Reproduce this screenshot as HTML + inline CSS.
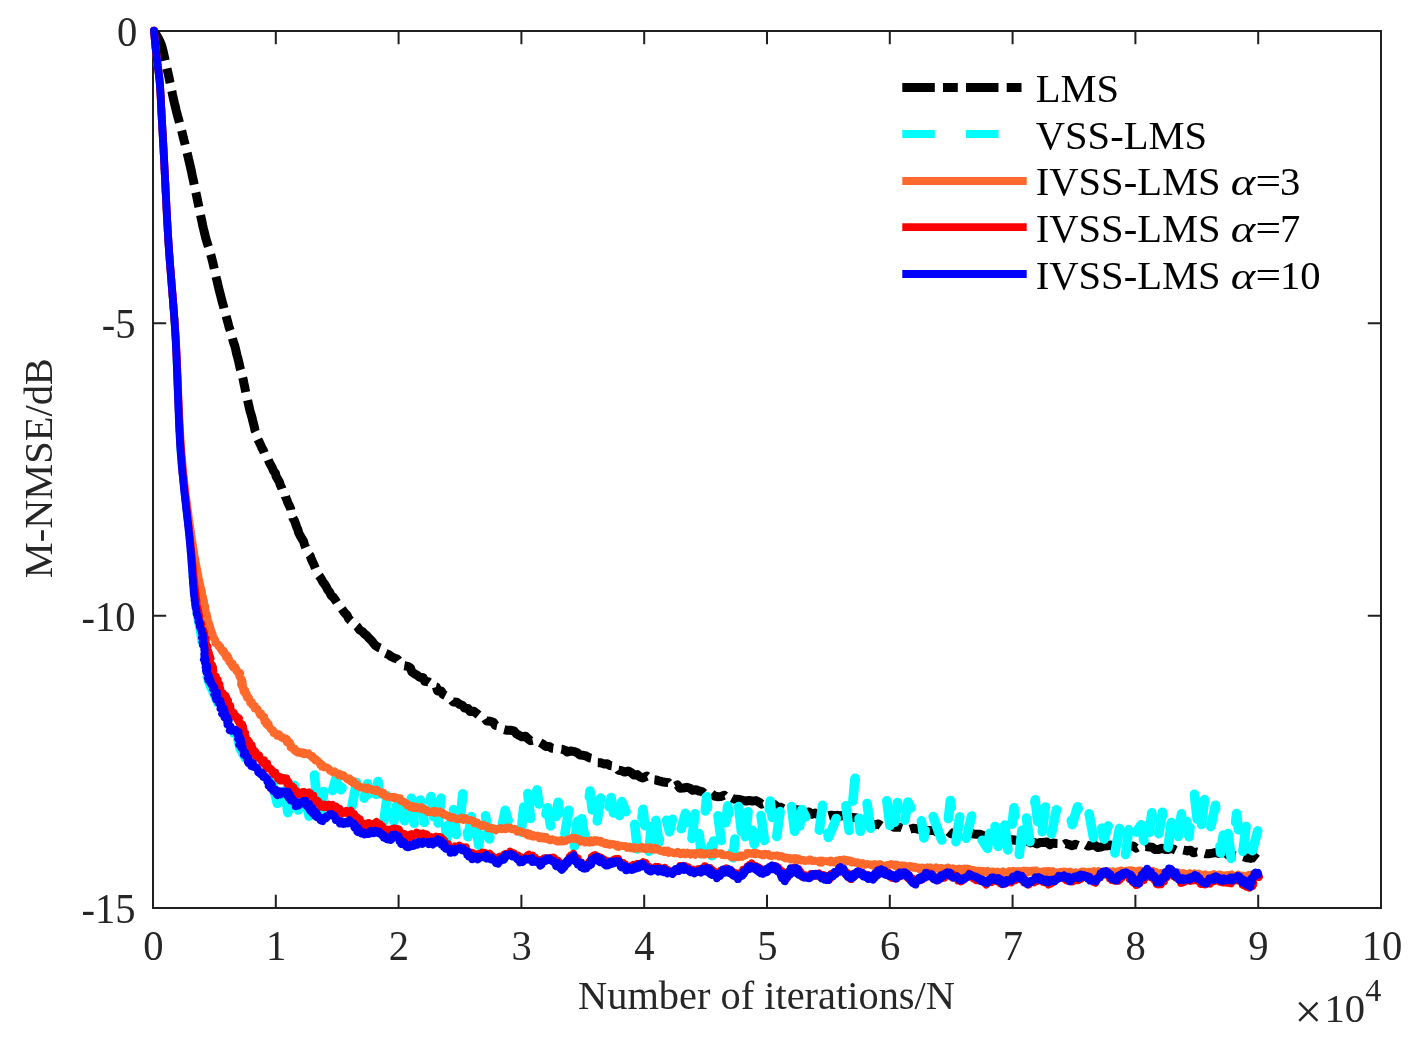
<!DOCTYPE html>
<html lang="en"><head><meta charset="utf-8"><title>M-NMSE convergence</title>
<style>html,body{margin:0;padding:0;background:#fff}svg{display:block}</style></head>
<body>
<svg width="1426" height="1047" viewBox="0 0 1426 1047">
<rect x="0" y="0" width="1426" height="1047" fill="#fff"/>
<g stroke="#202020" stroke-width="2" fill="none" stroke-linecap="butt">
<rect x="153.0" y="31.0" width="1228.0" height="877.0"/>
<path d="M275.8 908.0 v-13.2 M275.8 31.0 v13.2 M398.6 908.0 v-13.2 M398.6 31.0 v13.2 M521.4 908.0 v-13.2 M521.4 31.0 v13.2 M644.2 908.0 v-13.2 M644.2 31.0 v13.2 M767.0 908.0 v-13.2 M767.0 31.0 v13.2 M889.8 908.0 v-13.2 M889.8 31.0 v13.2 M1012.6 908.0 v-13.2 M1012.6 31.0 v13.2 M1135.4 908.0 v-13.2 M1135.4 31.0 v13.2 M1258.2 908.0 v-13.2 M1258.2 31.0 v13.2 M153.0 323.3 h13.2 M1381.0 323.3 h-13.2 M153.0 615.7 h13.2 M1381.0 615.7 h-13.2"/>
</g>
<g fill="none" stroke-linejoin="round" stroke-linecap="butt">
<path d="M153.3 30.7 L155.2 33.3 L157.0 35.9 L158.6 38.7 L160.0 41.5 L161.3 44.5 L162.2 47.5 L163.0 50.7 L163.7 53.8 L164.4 56.9 L165.1 60.0 L165.8 63.1 L166.5 66.3 L167.2 69.4 L167.9 72.5 L168.6 75.6 L169.3 78.8 L169.9 81.9 L170.6 85.0 L171.2 88.2 L171.9 91.3 L172.5 94.4 L173.2 97.6 L173.9 100.7 L174.6 103.8 L175.4 106.9 L176.1 110.0 L176.9 113.1 L177.7 116.2 L178.6 119.3 L179.4 122.4 L180.2 125.5 L181.1 128.6 L181.9 131.7 L182.7 134.8 L183.4 137.9 L184.2 141.0 L185.0 144.1 L185.7 147.2 L186.5 150.3 L187.3 153.4 L188.0 156.5 L188.7 159.6 L189.5 162.8 L190.2 165.9 L190.9 169.0 L191.6 172.1 L192.2 175.2 L192.9 178.4 L193.6 181.5 L194.2 184.6 L194.9 187.8 L195.5 190.9 L196.2 194.0 L196.9 197.2 L197.5 200.3 L198.2 203.4 L198.8 206.6 L199.5 209.7 L200.1 212.8 L200.7 216.0 L201.4 219.1 L202.1 222.2 L202.7 225.4 L203.4 228.5 L204.2 231.6 L204.9 234.7 L205.7 237.8 L206.6 240.9 L207.5 243.9 L208.5 247.0 L209.4 250.1 L210.3 253.1 L211.2 256.2 L212.0 259.3 L212.8 262.4 L213.5 265.5 L214.2 268.6 L214.9 271.8 L215.6 274.9 L216.3 278.0 L217.1 281.1 L217.8 284.2 L218.5 287.4 L219.3 290.5 L220.1 293.6 L220.9 296.7 L221.7 299.8 L222.5 302.8 L223.4 305.9 L224.1 309.0 L225.1 312.1 L225.9 315.2 L226.7 318.3 L227.6 321.4 L228.4 324.5 L229.2 327.6 L230.3 330.6 L231.1 333.7 L232.0 336.7 L232.8 339.9 L233.7 342.9 L234.8 345.9 L235.6 349.0 L236.3 352.2 L237.0 355.3 L237.9 358.3 L238.7 361.5 L239.3 364.6 L240.0 367.7 L241.0 370.8 L241.5 373.9 L242.5 377.0 L243.3 380.1 L243.9 383.2 L244.6 386.4 L245.2 389.5 L245.8 392.7 L246.6 395.8 L247.3 398.9 L248.0 402.0 L248.7 405.1 L249.4 408.2 L250.1 411.4 L251.1 414.4 L252.0 417.5 L252.7 420.6 L253.5 423.7 L254.3 426.8 L254.9 430.0 L256.2 432.9 L256.9 436.0 L257.8 439.1 L259.2 442.0 L260.6 444.9 L261.8 447.8 L263.4 450.6 L264.5 453.7 L266.5 456.2 L268.0 459.0 L269.2 462.1 L270.7 464.9 L272.2 467.7 L273.4 470.7 L275.4 473.2 L276.1 476.4 L277.8 479.2 L279.4 482.0 L280.3 485.1 L281.7 487.9 L282.7 491.0 L284.8 493.6 L285.5 496.7 L286.8 499.7 L287.8 502.7 L289.3 505.6 L290.6 508.5 L291.1 511.7 L292.4 514.7 L292.9 517.9 L294.5 520.7 L295.6 523.7 L296.6 526.8 L297.9 529.7 L298.7 532.8 L300.2 535.7 L301.8 538.5 L303.5 541.2 L304.4 544.3 L305.6 547.3 L306.9 550.2 L308.0 553.2 L310.2 555.8 L311.2 558.8 L312.5 561.7 L313.9 564.6 L315.1 567.6 L316.3 570.5 L317.6 573.5 L319.5 576.1 L321.2 578.8 L322.6 581.6 L324.6 584.1 L326.3 586.9 L327.7 589.8 L329.7 592.3 L331.0 595.3 L333.5 597.5 L335.4 600.1 L337.1 602.7 L338.9 605.4 L341.0 607.8 L342.9 610.4 L344.8 613.0 L347.1 615.3 L348.4 618.3 L350.6 620.6 L353.1 622.7 L355.3 625.1 L357.7 627.2 L359.5 629.8 L362.3 631.5 L364.5 633.9 L367.0 635.8 L369.1 638.3 L371.4 640.5 L373.4 643.1 L375.5 645.5 L378.2 647.3 L381.3 648.5 L382.9 651.8 L385.7 653.3 L388.7 654.6 L391.3 656.6 L394.1 658.0 L397.3 659.0 L399.3 661.8 L401.4 664.4 L404.3 665.8 L407.8 666.4 L410.5 668.1 L411.8 671.8 L414.4 673.7 L417.2 675.2 L419.7 677.2 L423.3 677.8 L424.7 681.3 L428.3 681.8 L430.9 683.6 L433.1 686.1 L436.4 687.0 L437.5 690.9 L441.3 691.1 L442.9 694.3 L445.8 695.8 L448.2 698.0 L451.1 699.3 L453.3 702.0 L456.9 702.2 L459.4 704.2 L462.4 705.4 L464.6 708.1 L468.0 708.5 L470.0 711.4 L473.9 711.2 L476.4 713.2 L478.9 715.3 L482.1 716.0 L484.8 717.8 L486.7 721.0 L490.2 721.2 L493.3 722.2 L495.3 725.3 L498.6 726.0 L501.4 727.5 L504.0 729.5 L507.2 730.3 L510.6 730.3 L513.9 730.9 L516.2 733.6 L519.0 735.3 L521.8 736.8 L525.5 736.2 L528.0 738.7 L530.6 740.7 L534.3 739.9 L537.3 741.1 L540.2 742.6 L543.0 744.2 L545.6 746.4 L549.0 746.4 L551.8 748.2 L555.0 748.5 L558.3 748.9 L561.5 749.2 L564.6 750.0 L567.4 752.0 L570.9 750.9 L574.1 751.6 L577.2 752.7 L579.8 755.0 L583.1 755.3 L586.2 756.0 L589.0 757.7 L592.3 758.3 L594.8 760.5 L597.3 762.7 L600.7 762.8 L603.7 763.9 L607.2 763.8 L609.9 765.6 L613.2 766.0 L616.2 766.9 L618.5 770.3 L621.7 770.8 L624.7 772.1 L628.3 771.0 L631.2 772.6 L633.8 775.0 L637.3 774.6 L639.9 776.9 L642.9 777.9 L646.8 776.1 L649.5 778.3 L652.5 779.6 L655.7 779.9 L658.8 780.9 L661.9 781.7 L665.0 782.2 L668.3 782.5 L670.8 785.3 L673.7 787.0 L677.5 785.0 L680.0 788.2 L683.3 788.0 L686.8 787.3 L689.9 788.2 L692.7 790.3 L696.1 789.8 L699.1 791.0 L702.2 791.6 L704.9 794.3 L708.4 793.5 L711.6 793.5 L714.4 796.0 L717.5 796.7 L720.8 796.5 L724.3 795.3 L727.0 798.1 L730.4 797.3 L733.4 798.9 L736.6 799.2 L739.8 799.5 L742.9 800.3 L746.0 801.0 L749.4 800.5 L752.5 801.1 L755.9 800.6 L758.8 802.0 L761.7 804.1 L765.2 802.8 L768.0 805.0 L771.1 805.8 L774.6 804.6 L777.4 807.0 L780.6 807.3 L783.6 808.9 L787.1 807.8 L790.0 809.5 L793.0 810.5 L796.4 809.8 L799.7 810.0 L802.7 811.1 L805.7 812.6 L809.0 812.0 L811.9 814.3 L815.3 813.1 L818.3 814.8 L821.7 813.9 L824.8 814.7 L827.9 816.1 L831.2 815.2 L834.3 815.9 L837.6 815.3 L840.7 816.0 L844.1 815.2 L847.1 817.0 L850.2 817.3 L853.5 817.6 L856.7 817.9 L859.7 819.2 L862.8 819.9 L865.9 820.9 L868.6 823.0 L871.7 824.1 L874.8 824.8 L878.3 823.9 L881.2 825.9 L884.5 825.4 L887.5 827.1 L891.0 824.9 L894.0 827.2 L897.2 827.1 L900.4 827.3 L903.5 828.4 L906.7 829.0 L909.8 829.3 L913.2 828.2 L916.3 828.7 L919.5 829.6 L922.8 828.3 L925.8 830.9 L929.0 830.5 L932.3 830.4 L935.4 831.3 L938.5 832.6 L941.7 832.4 L944.9 832.3 L948.2 831.3 L951.2 833.9 L954.6 832.5 L957.6 834.3 L960.9 833.4 L964.0 834.2 L967.1 835.2 L970.6 833.0 L973.7 834.1 L976.9 834.2 L980.2 834.3 L983.2 835.7 L986.1 837.9 L989.6 836.4 L992.8 836.5 L995.6 839.5 L998.9 838.7 L1002.1 839.1 L1005.1 840.3 L1008.3 841.1 L1011.7 839.8 L1014.8 840.1 L1018.0 841.1 L1021.0 842.7 L1024.2 843.2 L1027.6 841.2 L1030.6 842.9 L1033.9 842.4 L1037.0 843.9 L1040.3 842.4 L1043.5 842.5 L1046.8 842.0 L1049.8 844.8 L1053.1 842.9 L1056.3 843.5 L1059.5 843.6 L1062.5 845.9 L1065.9 843.6 L1069.0 844.5 L1072.2 845.7 L1075.4 844.3 L1078.6 845.6 L1081.8 845.3 L1085.0 844.2 L1088.2 846.0 L1091.4 845.3 L1094.6 845.0 L1097.7 847.4 L1100.9 847.1 L1104.2 846.0 L1107.4 845.8 L1110.6 844.9 L1113.7 847.2 L1117.0 845.9 L1120.2 846.7 L1123.4 847.2 L1126.5 847.7 L1129.8 846.0 L1133.0 845.9 L1136.1 848.1 L1139.4 846.1 L1142.6 847.3 L1145.8 846.4 L1149.0 847.1 L1152.2 847.3 L1155.2 849.5 L1158.5 849.4 L1161.8 848.2 L1164.9 849.4 L1168.1 849.4 L1171.4 848.5 L1174.5 849.6 L1177.6 851.1 L1180.9 849.5 L1184.1 850.2 L1187.2 850.9 L1190.5 850.2 L1193.5 852.8 L1196.8 852.0 L1199.9 853.0 L1203.1 852.9 L1206.3 853.8 L1209.5 853.7 L1212.7 853.1 L1216.0 852.4 L1219.1 853.5 L1222.4 852.5 L1225.6 852.9 L1228.6 855.4 L1231.9 854.7 L1234.9 855.9 L1238.1 856.1 L1241.4 855.8 L1244.5 856.9 L1247.5 857.9 L1250.7 858.4 L1254.2 856.9 L1257.0 859.3 L1258.4 858.3" stroke="#000" stroke-width="9" stroke-dasharray="32.5 8.2 14.8 8.2"/>
<path d="M157.1 60.5 L157.4 63.5 L157.8 66.5 L158.2 69.5 L158.6 72.4 L159.0 75.4 L159.4 78.4 L159.7 81.4 L159.9 84.4 L160.1 87.4 L160.3 90.4 L160.5 93.3 L160.7 96.3 L160.8 99.3 L161.0 102.3 L161.1 105.3 L161.2 108.3 L161.4 111.3 L161.6 114.3 L161.7 117.3 L161.9 120.3 L162.1 123.3 L162.2 126.3 L162.4 129.3 L162.6 132.3 L162.7 135.3 L162.9 138.3 L163.1 141.3 L163.3 144.3 L163.4 147.3 L163.6 150.3 L163.7 153.3 L163.9 156.3 L164.1 159.3 L164.2 162.3 L164.4 165.2 L164.5 168.2 L164.7 171.2 L164.8 174.2 L165.0 177.2 L165.1 180.2 L165.3 183.2 L165.4 186.2 L165.6 189.2 L165.7 192.2 L165.9 195.2 L166.0 198.2 L166.2 201.2 L166.3 204.2 L166.5 207.2 L166.6 210.2 L166.8 213.2 L167.0 216.2 L167.1 219.2 L167.3 222.2 L167.4 225.2 L167.6 228.2 L167.8 231.2 L168.0 234.2 L168.1 237.1 L168.3 240.1 L168.5 243.1 L168.7 246.1 L168.9 249.1 L169.1 252.1 L169.4 255.1 L169.6 258.1 L169.8 261.1 L170.0 264.1 L170.3 267.1 L170.5 270.1 L170.7 273.1 L171.0 276.0 L171.2 279.0 L171.5 282.0 L171.7 285.0 L171.9 288.0 L172.2 291.0 L172.4 294.0 L172.7 297.0 L172.9 300.0 L173.1 303.0 L173.4 306.0 L173.6 308.9 L173.8 311.9 L174.0 314.9 L174.3 317.9 L174.5 320.9 L174.7 323.9 L174.9 326.9 L175.1 329.9 L175.2 332.9 L175.4 335.9 L175.6 338.9 L175.8 341.9 L175.9 344.9 L176.1 347.9 L176.2 350.9 L176.3 353.9 L176.5 356.9 L176.6 359.9 L176.7 362.9 L176.8 365.8 L177.0 368.8 L177.1 371.8 L177.2 374.8 L177.3 377.8 L177.4 380.8 L177.5 383.8 L177.6 386.8 L177.7 389.8 L177.9 392.8 L178.0 395.8 L178.1 398.8 L178.2 401.8 L178.3 404.8 L178.4 407.8 L178.5 410.8 L178.7 413.8 L178.8 416.8 L178.9 419.8 L179.0 422.8 L179.2 425.8 L179.3 428.8 L179.5 431.8 L179.6 434.8 L179.8 437.8 L180.0 440.8 L180.1 443.8 L180.3 446.8 L180.5 449.8 L180.7 452.8 L180.9 455.7 L181.2 458.7 L181.4 461.7 L181.7 464.7 L181.9 467.7 L182.2 470.7 L182.5 473.7 L182.8 476.6 L183.1 479.6 L183.4 482.6 L183.7 485.6 L184.0 488.6 L184.4 491.6 L184.7 494.6 L185.0 497.5 L185.4 500.5 L185.7 503.5 L186.0 506.5 L186.4 509.5 L186.7 512.5 L187.0 515.4 L187.4 518.4 L187.7 521.4 L188.0 524.4 L188.3 527.4 L188.7 530.4 L189.0 533.3 L189.3 536.3 L189.6 539.3 L189.9 542.3 L190.2 545.3 L190.4 548.3 L190.7 551.3 L191.0 554.2 L191.2 557.2 L191.4 560.2 L191.7 563.2 L191.9 566.2 L192.1 569.2 L192.3 572.2 L192.5 575.2 L192.8 578.2 L193.0 581.2 L193.2 584.2 L193.5 587.2 L193.7 590.2 L194.0 593.2 L194.3 596.1 L194.6 599.1 L194.9 602.1 L195.2 605.1 L195.6 608.0 L196.1 611.0 L196.6 614.0 L197.1 616.9 L197.6 619.9 L198.2 622.8 L198.7 625.8 L199.3 628.7 L199.8 631.7 L200.3 634.6 L200.8 637.6 L201.3 640.6 L201.6 643.5 L201.9 646.5 L202.2 649.5 L202.5 652.5 L202.7 655.5 L203.0 658.5 L203.3 661.5 L203.7 664.4 L204.2 667.4 L204.9 670.3 L205.6 673.2 L206.3 676.1 L207.2 679.0 L208.1 681.9 L208.9 684.5 L216.9 702.5 L223.1 717.9 L229.3 731.8 L236.2 734.9 L239.3 748.8 L247.8 764.2 L260.1 776.5 L272.0 781.2" stroke="#00ffff" stroke-width="7.8" stroke-dasharray="32.5 31.2" stroke-dashoffset="20"/>
<path d="M272.0 781.2 L277.3 803.3 L282.6 777.4 L287.9 812.6 L293.2 778.6 L298.5 810.9 L303.8 785.4 L309.1 816.1 L314.4 774.3 L319.7 827.1 L325.0 780.6 L330.3 798.4 L335.6 779.5 L340.9 789.7 L346.2 781.3 L351.5 809.0 L356.8 780.8 L362.1 807.3 L367.4 783.8 L372.7 812.8 L378.0 781.6 L383.3 826.0 L388.6 785.2 L393.9 821.4 L399.2 788.6 L404.5 820.7 L409.8 784.3 L415.1 831.5 L420.4 800.0 L425.7 830.6 L431.0 796.6 L436.3 838.7 L441.6 793.7 L446.9 838.2 L452.2 798.3 L457.5 845.1 L462.8 793.8 L468.1 836.8 L473.4 804.8 L478.7 845.2 L484.0 806.6 L489.3 838.9 L494.6 825.5 L499.9 836.7 L505.2 810.3 L510.5 828.9 L515.8 817.5 L521.1 832.7 L526.4 781.4 L531.7 828.3 L537.0 789.9 L542.3 827.7 L547.6 807.7 L552.9 839.9 L558.2 802.2 L563.5 842.0 L568.8 810.2 L574.1 847.7 L579.4 801.2 L584.7 839.0 L590.0 791.0 L595.3 834.3 L600.6 798.0 L605.9 821.9 L611.2 797.6 L616.5 833.0 L621.8 801.6 L627.1 814.2 L632.4 802.2 L637.7 852.2 L643.0 809.3 L648.3 857.4 L653.6 804.5 L658.9 842.1 L664.2 811.0 L669.5 831.9 L674.8 809.6 L680.1 832.8 L685.4 813.4 L690.7 849.3 L696.0 804.8 L701.3 853.7 L706.6 796.9 L711.9 855.7 L717.2 809.5 L722.5 850.5 L727.8 805.9 L733.1 857.8 L738.4 803.9 L743.7 852.9 L749.0 802.1 L754.3 844.2 L759.6 805.7 L764.9 843.7 L770.2 801.0 L775.5 845.8 L780.8 805.9 L786.1 820.2 L791.4 805.3 L796.7 847.5 L802.0 809.5 L807.3 819.7 L812.6 831.3 L817.9 841.0 L823.2 800.4 L828.5 837.5 L833.8 824.8 L839.1 811.4 L844.4 793.8 L849.7 834.7 L855.0 778.4 L860.3 831.3 L865.6 792.6 L870.9 831.2 L876.2 819.1 L881.5 809.6 L886.8 800.4 L892.1 842.7 L897.4 802.6 L902.7 832.7 L908.0 802.0 L913.3 812.1 L918.6 800.6 L923.9 838.0 L929.2 805.0 L934.5 820.4 L939.8 835.2 L945.1 847.9 L950.4 800.5 L955.7 843.3 L961.0 807.9 L966.3 838.2 L971.6 816.0 L976.9 846.0 L982.2 840.2 L987.5 848.4 L992.8 811.1 L998.1 846.4 L1003.4 814.6 L1008.7 855.9 L1014.0 807.7 L1019.3 854.5 L1024.6 805.3 L1029.9 841.6 L1035.2 799.8 L1040.5 845.6 L1045.8 803.8 L1051.1 836.0 L1056.4 809.7 L1061.7 813.4 L1067.0 801.8 L1072.3 824.6 L1077.6 806.7 L1082.9 824.2 L1088.2 808.6 L1093.5 837.7 L1098.8 814.0 L1104.1 839.1 L1109.4 821.9 L1114.7 854.1 L1120.0 825.7 L1125.3 857.5 L1130.6 812.8 L1135.9 832.5 L1141.2 824.7 L1146.5 855.4 L1151.8 812.8 L1157.1 844.5 L1162.4 812.2 L1167.7 850.2 L1173.0 809.7 L1178.3 836.4 L1183.6 798.7 L1188.9 836.7 L1194.2 792.0 L1199.5 840.7 L1204.8 797.9 L1210.1 830.1 L1215.4 805.3 L1220.7 853.1 L1226.0 815.5 L1231.3 859.2 L1236.6 813.6 L1241.9 859.4 L1247.2 817.6 L1252.5 850.7 L1257.8 830.5 L1258.4 826.0" stroke="#00ffff" stroke-width="9.6" stroke-linecap="round" stroke-dasharray="25 38" stroke-dashoffset="0"/>
<path d="M154.0 30.7 L154.1 31.8 L154.2 32.9 L154.3 34.0 L154.4 35.1 L154.5 36.2 L154.6 37.3 L154.7 38.4 L154.8 39.5 L154.9 40.6 L155.0 41.7 L155.1 42.8 L155.2 43.8 L155.3 44.9 L155.4 46.0 L155.5 47.1 L155.6 48.2 L155.8 49.3 L155.9 50.4 L156.0 51.5 L156.1 52.6 L156.3 53.7 L156.4 54.8 L156.5 55.9 L156.6 57.0 L156.8 58.1 L156.9 59.2 L157.0 60.2 L157.2 61.3 L157.3 62.4 L157.4 63.5 L157.6 64.6 L157.7 65.7 L157.9 66.8 L158.0 67.9 L158.2 69.0 L158.3 70.1 L158.5 71.1 L158.6 72.2 L158.7 73.3 L158.9 74.4 L159.0 75.5 L159.2 76.6 L159.3 77.7 L159.4 78.8 L159.5 79.9 L159.6 81.0 L159.7 82.1 L159.8 83.2 L159.9 84.3 L160.0 85.4 L160.1 86.5 L160.1 87.6 L160.2 88.7 L160.3 89.8 L160.3 90.9 L160.4 92.0 L160.5 93.0 L160.5 94.1 L160.6 95.2 L160.7 96.3 L160.7 97.4 L160.8 98.5 L160.8 99.6 L160.9 100.7 L160.9 101.8 L161.0 102.9 L161.0 104.0 L161.1 105.1 L161.1 106.2 L161.2 107.3 L161.3 108.4 L161.3 109.5 L161.4 110.6 L161.4 111.7 L161.5 112.8 L161.5 113.9 L161.6 115.0 L161.7 116.1 L161.7 117.2 L161.8 118.3 L161.8 119.4 L161.9 120.5 L162.0 121.6 L162.0 122.7 L162.1 123.8 L162.2 124.9 L162.2 126.0 L162.3 127.1 L162.3 128.2 L162.4 129.3 L162.5 130.4 L162.5 131.5 L162.6 132.6 L162.7 133.7 L162.7 134.8 L162.8 135.9 L162.8 137.0 L162.9 138.1 L163.0 139.2 L163.0 140.3 L163.1 141.4 L163.2 142.5 L163.2 143.6 L163.3 144.7 L163.3 145.8 L163.4 146.9 L163.5 148.0 L163.5 149.1 L163.6 150.2 L163.6 151.3 L163.7 152.4 L163.7 153.5 L163.8 154.6 L163.9 155.7 L163.9 156.8 L164.0 157.9 L164.0 159.0 L164.1 160.1 L164.1 161.2 L164.2 162.2 L164.3 163.3 L164.3 164.4 L164.4 165.5 L164.4 166.6 L164.5 167.7 L164.5 168.8 L164.6 169.9 L164.7 171.0 L164.7 172.1 L164.8 173.2 L164.8 174.3 L164.9 175.4 L164.9 176.5 L165.0 177.6 L165.0 178.7 L165.1 179.8 L165.1 180.9 L165.2 182.0 L165.3 183.1 L165.3 184.2 L165.4 185.3 L165.4 186.4 L165.5 187.5 L165.5 188.6 L165.6 189.7 L165.6 190.8 L165.7 191.9 L165.7 193.0 L165.8 194.1 L165.9 195.2 L165.9 196.3 L166.0 197.4 L166.0 198.5 L166.1 199.6 L166.1 200.7 L166.2 201.8 L166.2 202.9 L166.3 204.0 L166.4 205.1 L166.4 206.2 L166.5 207.3 L166.5 208.4 L166.6 209.5 L166.6 210.6 L166.7 211.7 L166.8 212.8 L166.8 213.9 L166.9 215.0 L166.9 216.1 L167.0 217.2 L167.1 218.3 L167.1 219.4 L167.2 220.5 L167.2 221.6 L167.3 222.7 L167.4 223.8 L167.4 224.9 L167.5 226.0 L167.5 227.1 L167.6 228.2 L167.7 229.3 L167.7 230.4 L167.8 231.5 L167.9 232.6 L167.9 233.7 L168.0 234.7 L168.1 235.8 L168.1 236.9 L168.2 238.0 L168.3 239.1 L168.3 240.2 L168.4 241.3 L168.5 242.4 L168.6 243.5 L168.6 244.6 L168.7 245.7 L168.8 246.8 L168.9 247.9 L168.9 249.0 L169.0 250.1 L169.1 251.2 L169.2 252.3 L169.2 253.4 L169.3 254.5 L169.4 255.6 L169.5 256.7 L169.6 257.8 L169.7 258.9 L169.7 260.0 L169.8 261.1 L169.9 262.2 L170.0 263.3 L170.1 264.4 L170.2 265.5 L170.2 266.6 L170.3 267.7 L170.4 268.8 L170.5 269.9 L170.6 271.0 L170.7 272.1 L170.8 273.1 L170.9 274.2 L170.9 275.3 L171.0 276.4 L171.1 277.5 L171.2 278.6 L171.3 279.7 L171.4 280.8 L171.5 281.9 L171.6 283.0 L171.7 284.1 L171.8 285.2 L171.8 286.3 L171.9 287.4 L172.0 288.5 L172.1 289.6 L172.2 290.7 L172.3 291.8 L172.4 292.9 L172.5 294.0 L172.6 295.1 L172.7 296.2 L172.8 297.3 L172.8 298.4 L172.9 299.5 L173.0 300.6 L173.1 301.7 L173.2 302.7 L173.3 303.8 L173.4 304.9 L173.5 306.0 L173.5 307.1 L173.6 308.2 L173.7 309.3 L173.8 310.4 L173.9 311.5 L174.0 312.6 L174.1 313.7 L174.1 314.8 L174.2 315.9 L174.3 317.0 L174.4 318.1 L174.5 319.2 L174.6 320.3 L174.6 321.4 L174.7 322.5 L174.8 323.6 L174.9 324.7 L174.9 325.8 L175.0 326.9 L175.1 328.0 L175.2 329.1 L175.2 330.2 L175.3 331.3 L175.4 332.4 L175.5 333.5 L175.5 334.6 L175.6 335.7 L175.7 336.8 L175.7 337.9 L175.8 339.0 L175.9 340.1 L175.9 341.2 L176.0 342.2 L176.1 343.3 L176.1 344.4 L176.2 345.5 L176.2 346.6 L176.3 347.7 L176.3 348.8 L176.4 349.9 L176.5 351.0 L176.5 352.1 L176.6 353.2 L176.6 354.3 L176.7 355.4 L176.7 356.5 L176.8 357.6 L176.8 358.7 L176.9 359.8 L176.9 360.9 L177.0 362.0 L177.0 363.1 L177.1 364.2 L177.1 365.3 L177.2 366.4 L177.2 367.5 L177.3 368.6 L177.3 369.7 L177.4 370.8 L177.4 371.9 L177.5 373.0 L177.5 374.1 L177.6 375.2 L177.6 376.3 L177.7 377.4 L177.7 378.5 L177.8 379.6 L177.8 380.7 L177.8 381.8 L177.9 382.9 L177.9 384.0 L178.0 385.1 L178.0 386.2 L178.1 387.3 L178.1 388.4 L178.2 389.5 L178.2 390.6 L178.3 391.7 L178.3 392.8 L178.3 393.9 L178.4 395.0 L178.4 396.1 L178.5 397.2 L178.5 398.3 L178.6 399.4 L178.6 400.5 L178.7 401.6 L178.7 402.7 L178.8 403.8 L178.8 404.9 L178.9 406.0 L178.9 407.1 L179.0 408.2 L179.0 409.3 L179.1 410.4 L179.1 411.5 L179.2 412.6 L179.2 413.7 L179.3 414.8 L179.3 415.9 L179.4 417.0 L179.4 418.1 L179.5 419.2 L179.5 420.3 L179.6 421.4 L179.6 422.5 L179.7 423.6 L179.8 424.7 L179.8 425.8 L179.9 426.9 L179.9 428.0 L180.0 429.1 L180.1 430.2 L180.1 431.3 L180.2 432.4 L180.3 433.4 L180.3 434.5 L180.4 435.6 L180.5 436.7 L180.5 437.8 L180.6 438.9 L180.7 440.0 L180.7 441.1 L180.8 442.2 L180.9 443.3 L181.0 444.4 L181.0 445.5 L181.1 446.6 L181.2 447.7 L181.3 448.8 L181.4 449.9 L181.4 451.0 L181.5 452.1 L181.6 453.2 L181.7 454.3 L181.8 455.4 L181.9 456.5 L182.0 457.6 L182.1 458.7 L182.2 459.8 L182.3 460.9 L182.4 462.0 L182.5 463.1 L182.6 464.2 L182.7 465.3 L182.8 466.4 L182.9 467.4 L183.0 468.5 L183.1 469.6 L183.2 470.7 L183.3 471.8 L183.4 472.9 L183.5 474.0 L183.7 475.1 L183.8 476.2 L183.9 477.3 L184.0 478.4 L184.1 479.5 L184.2 480.6 L184.4 481.7 L184.5 482.8 L184.6 483.9 L184.7 484.9 L184.9 486.0 L185.0 487.1 L185.1 488.2 L185.2 489.3 L185.4 490.4 L185.5 491.5 L185.6 492.6 L185.8 493.7 L185.9 494.8 L186.0 495.9 L186.2 497.0 L186.3 498.1 L186.4 499.1 L186.6 500.2 L186.7 501.3 L186.9 502.4 L187.0 503.5 L187.2 504.6 L187.3 505.7 L187.4 506.8 L187.6 507.9 L187.7 509.0 L187.9 510.1 L188.0 511.1 L188.2 512.2 L188.3 513.3 L188.5 514.4 L188.6 515.5 L188.8 516.6 L188.9 517.7 L189.1 518.8 L189.2 519.9 L189.4 520.9 L189.5 522.0 L189.7 523.1 L189.8 524.2 L190.0 525.3 L190.2 526.4 L190.3 527.5 L190.5 528.6 L190.6 529.7 L190.8 530.7 L191.0 531.8 L191.1 532.9 L191.3 534.0 L191.4 535.1 L191.6 536.2 L191.8 537.3 L191.9 538.4 L192.1 539.5 L192.2 540.5 L192.4 541.6 L192.6 542.7 L192.7 543.8 L192.9 544.9 L193.1 546.0 L193.2 547.1 L193.4 548.2 L193.6 549.2 L193.7 550.3 L193.9 551.4 L194.1 552.5 L194.3 553.6 L194.4 554.7 L194.6 555.8 L194.8 556.8 L195.0 557.9 L195.2 559.0 L195.4 560.1 L195.6 561.2 L195.7 562.3 L196.0 563.3 L196.1 564.4 L196.4 565.5 L196.6 566.6 L196.8 567.7 L197.0 568.7 L197.2 569.8 L197.4 570.9 L197.5 572.0 L197.9 573.1 L198.1 574.1 L198.3 575.2 L198.5 576.3 L198.6 577.4 L198.8 578.5 L199.1 579.5 L199.4 580.6 L199.6 581.7 L199.8 582.8 L200.1 583.8 L200.3 584.9 L200.3 586.0 L200.7 587.1 L201.1 588.1 L201.1 589.2 L201.5 590.3 L201.9 591.3 L201.8 592.5 L202.2 593.5 L202.2 594.6 L202.5 595.7 L203.0 596.7 L203.2 597.8 L203.1 598.9 L203.6 600.0 L204.0 601.0 L204.2 602.1 L204.1 603.2 L204.4 604.3 L204.7 605.3 L205.3 606.3 L205.3 607.5 L205.4 608.5 L205.6 609.6 L205.7 610.7 L205.9 611.8 L206.3 612.9 L206.8 613.9 L206.9 615.0 L206.8 616.1 L207.4 617.1 L207.7 618.2 L207.5 619.4 L207.6 620.5 L208.5 621.4 L208.5 622.5 L208.5 623.7 L209.6 624.5 L209.8 625.6 L209.6 626.8 L210.5 627.7 L210.7 628.8 L210.2 630.1 L211.3 630.9 L211.9 631.8 L211.8 633.0 L212.7 633.9 L212.8 635.0 L212.3 636.4 L212.8 637.4 L214.2 638.0 L214.5 639.0 L215.2 639.9 L215.5 640.9 L215.2 642.4 L215.7 643.4 L216.7 644.1 L218.2 644.3 L218.3 645.6 L218.7 646.7 L220.3 646.8 L220.3 648.2 L220.8 649.3 L222.1 649.6 L222.1 651.1 L223.9 651.0 L224.4 652.0 L224.1 653.6 L224.9 654.4 L225.3 655.4 L227.1 655.5 L226.2 657.5 L228.4 657.4 L227.9 659.0 L229.3 659.4 L229.5 660.6 L229.3 662.0 L230.1 662.8 L230.8 663.7 L232.7 663.7 L231.8 665.7 L232.5 666.6 L233.1 667.6 L235.4 667.1 L235.6 668.3 L236.5 669.0 L236.2 670.7 L236.8 671.6 L238.2 671.9 L239.4 672.4 L240.3 673.2 L239.0 675.1 L239.2 676.1 L239.9 677.0 L240.1 678.0 L241.5 678.8 L242.1 679.8 L242.4 680.9 L241.3 682.2 L242.7 683.1 L241.1 684.5 L242.9 685.3 L242.0 686.6 L242.6 687.6 L243.6 688.5 L243.3 689.7 L245.1 690.2 L243.9 691.9 L245.6 692.3 L245.2 693.7 L246.8 694.1 L246.4 695.6 L246.6 696.7 L247.1 697.8 L249.0 697.8 L248.9 699.2 L249.7 700.0 L250.3 700.9 L250.1 702.4 L252.0 702.4 L251.5 704.1 L252.2 705.0 L253.5 705.4 L254.7 705.8 L254.3 707.5 L254.7 708.6 L256.7 708.4 L257.6 709.1 L258.1 710.1 L258.4 711.3 L259.1 712.1 L259.3 713.4 L261.1 713.4 L260.4 715.3 L261.8 715.6 L262.9 716.2 L264.1 716.8 L263.5 718.4 L264.9 718.8 L265.0 720.1 L264.5 721.7 L266.7 721.7 L266.8 722.9 L266.5 724.3 L268.7 724.2 L268.1 726.0 L269.1 726.6 L270.0 727.3 L270.3 728.4 L271.1 729.2 L271.7 730.2 L273.2 730.2 L273.6 731.3 L273.6 733.1 L275.1 733.0 L275.8 733.8 L277.0 734.1 L277.3 735.7 L279.3 734.4 L280.0 735.5 L280.5 736.7 L281.4 737.5 L282.8 737.2 L283.3 738.5 L284.7 738.4 L286.0 738.5 L287.0 739.2 L287.6 740.2 L286.9 742.3 L289.0 742.0 L290.0 742.6 L289.6 744.3 L290.4 745.1 L291.4 745.8 L290.7 747.6 L291.9 748.1 L293.1 748.5 L294.5 748.6 L294.3 750.5 L295.2 751.2 L296.6 750.8 L297.2 752.6 L298.3 752.8 L299.6 752.1 L300.5 753.1 L301.6 753.3 L302.9 752.4 L303.7 754.1 L305.1 752.9 L305.9 754.0 L307.2 753.6 L308.5 753.3 L309.1 754.7 L309.9 755.5 L310.9 755.9 L312.3 755.9 L312.2 757.7 L313.2 758.3 L314.6 758.3 L315.6 758.8 L315.5 760.6 L317.2 760.4 L318.1 761.1 L318.8 761.9 L319.1 763.2 L320.4 763.3 L320.4 765.1 L322.1 764.7 L322.1 766.7 L323.7 766.2 L324.3 767.4 L325.9 766.8 L326.8 767.3 L327.7 768.0 L328.7 768.5 L329.3 769.8 L330.0 770.9 L331.2 770.8 L332.3 771.1 L332.9 772.4 L334.6 771.4 L335.1 772.9 L336.2 773.0 L337.2 773.5 L338.5 773.5 L338.8 775.3 L340.5 774.3 L341.6 774.7 L342.2 776.0 L343.7 775.3 L344.4 776.5 L345.1 777.4 L346.1 777.9 L346.7 779.0 L347.7 779.6 L349.6 778.4 L349.8 780.3 L350.4 781.3 L352.1 780.7 L353.3 780.9 L353.2 783.0 L354.5 783.1 L355.1 784.2 L356.5 784.1 L356.8 785.7 L357.7 786.3 L359.3 785.9 L359.8 787.3 L360.8 787.7 L362.1 787.6 L363.3 787.4 L364.4 787.5 L365.2 788.9 L366.3 789.1 L367.7 787.6 L368.5 789.5 L369.8 788.4 L370.8 788.7 L371.7 790.0 L372.9 789.9 L373.8 790.7 L374.8 791.0 L376.4 789.5 L377.3 790.3 L378.0 791.5 L378.9 792.1 L380.3 791.7 L381.4 792.2 L381.6 793.9 L383.6 792.8 L383.5 795.1 L385.0 794.7 L385.8 795.4 L386.5 796.8 L387.8 796.3 L388.9 796.5 L389.9 797.3 L391.1 796.8 L392.1 797.5 L393.1 798.0 L394.5 796.8 L395.3 798.3 L396.6 797.6 L397.7 797.8 L398.6 798.6 L399.9 798.3 L400.0 800.4 L400.9 801.0 L402.2 801.1 L403.4 801.3 L404.0 802.3 L404.8 803.1 L406.3 803.0 L407.0 803.9 L407.2 805.4 L408.6 805.1 L409.7 805.3 L410.2 807.1 L411.6 805.9 L412.6 805.9 L413.4 808.1 L414.7 806.7 L415.7 808.1 L416.9 806.8 L417.9 808.0 L419.0 808.1 L420.0 808.8 L421.4 807.2 L422.2 808.6 L423.0 809.4 L424.5 809.0 L425.0 810.2 L426.5 810.0 L427.0 811.2 L427.8 812.0 L428.9 812.4 L430.0 811.6 L431.0 811.6 L432.2 812.1 L433.1 811.1 L434.5 813.0 L435.3 810.7 L436.6 812.4 L437.7 812.7 L438.6 812.1 L439.9 811.3 L440.6 812.7 L441.9 812.5 L443.0 812.8 L443.2 814.5 L444.2 814.9 L445.8 814.6 L446.7 815.2 L447.4 816.1 L448.7 815.9 L449.4 817.0 L450.3 817.5 L451.3 818.2 L452.6 817.0 L453.6 817.3 L454.7 817.9 L455.8 818.2 L456.8 819.4 L457.9 819.3 L459.0 818.8 L460.1 819.3 L461.3 817.5 L462.4 818.5 L463.3 819.9 L464.5 819.3 L465.8 818.2 L466.6 819.8 L467.8 819.5 L468.8 820.1 L470.0 819.9 L471.2 820.0 L472.0 820.9 L473.3 820.6 L474.1 821.7 L474.6 823.3 L476.0 822.9 L477.3 822.5 L477.8 824.1 L478.9 824.5 L479.9 825.0 L481.0 825.1 L481.8 826.2 L483.5 824.7 L484.3 825.6 L485.3 826.1 L486.6 825.9 L487.5 826.6 L488.0 828.3 L489.4 827.9 L490.3 828.7 L491.7 827.9 L492.5 829.0 L493.8 828.3 L494.8 828.5 L495.7 830.4 L496.9 828.8 L498.0 828.7 L499.1 828.8 L500.1 828.0 L501.3 829.2 L502.3 828.1 L503.4 828.5 L504.6 829.1 L505.7 829.3 L506.7 827.7 L507.8 828.4 L509.0 827.4 L510.2 827.6 L511.2 828.5 L512.1 829.4 L513.4 828.8 L514.6 828.7 L515.4 829.9 L516.3 830.4 L517.0 831.7 L518.5 830.9 L519.5 831.3 L520.8 831.1 L521.5 832.3 L522.7 832.2 L523.4 833.4 L524.6 833.4 L525.8 833.2 L527.0 833.0 L527.5 835.5 L528.5 835.7 L530.1 834.0 L530.7 836.0 L531.8 836.5 L533.2 835.1 L534.0 836.7 L535.2 836.2 L536.3 836.4 L537.6 835.6 L538.5 836.7 L539.3 838.2 L540.8 836.4 L541.5 838.3 L542.6 838.5 L544.1 836.9 L544.8 838.6 L546.3 837.1 L547.2 838.2 L548.0 839.6 L549.1 839.9 L550.1 840.3 L551.4 839.3 L552.6 839.2 L553.6 839.9 L554.7 839.9 L555.7 840.7 L556.7 841.5 L557.9 840.5 L558.9 841.6 L560.0 841.5 L561.2 840.1 L562.3 841.3 L563.5 841.6 L564.5 840.9 L565.8 841.0 L566.5 839.8 L567.5 839.4 L568.8 839.6 L569.7 838.9 L570.9 839.1 L571.7 837.9 L572.8 838.8 L573.9 838.2 L575.1 837.7 L575.9 839.0 L576.7 839.6 L578.3 838.8 L579.4 839.0 L579.9 840.4 L580.6 841.7 L582.1 841.0 L583.3 840.5 L584.3 840.9 L585.2 842.5 L586.3 840.9 L587.4 841.7 L588.5 841.7 L589.7 842.6 L590.5 840.4 L591.6 840.2 L593.0 842.2 L594.0 841.0 L595.0 840.1 L596.2 841.6 L597.3 840.5 L598.3 841.5 L599.4 841.5 L600.7 840.8 L601.3 842.7 L602.6 842.1 L603.5 843.1 L604.4 843.9 L605.9 842.9 L606.6 844.3 L607.8 844.1 L609.0 843.5 L609.9 844.8 L611.2 843.7 L612.2 844.5 L613.4 844.0 L614.5 844.3 L615.5 844.9 L616.4 846.1 L617.7 844.9 L618.5 847.0 L619.8 845.8 L620.9 845.7 L622.0 845.8 L623.1 846.2 L624.2 846.2 L625.3 845.9 L626.4 846.2 L627.3 848.0 L628.4 847.5 L629.6 846.7 L630.6 848.3 L631.7 847.9 L632.9 847.2 L633.9 848.7 L635.1 847.0 L636.2 847.5 L637.3 847.7 L638.3 848.7 L639.4 847.9 L640.5 848.4 L641.7 846.9 L642.7 848.8 L643.8 849.0 L644.9 848.9 L646.1 847.3 L647.1 849.1 L648.3 847.7 L649.4 847.1 L650.5 847.2 L651.4 849.5 L652.6 848.4 L653.6 849.6 L655.0 847.8 L655.8 849.7 L657.1 848.4 L658.1 849.1 L659.1 849.7 L660.0 850.8 L661.0 851.2 L662.2 851.1 L663.5 850.5 L664.2 851.9 L665.6 850.7 L666.5 851.8 L667.9 850.7 L668.6 853.0 L669.8 852.5 L671.0 851.8 L672.0 852.2 L673.1 852.6 L674.1 853.4 L675.3 852.7 L676.4 853.2 L677.6 851.8 L678.6 852.5 L679.6 853.5 L680.7 854.3 L681.9 853.3 L683.0 852.6 L684.0 853.7 L685.1 854.4 L686.2 854.1 L687.4 852.6 L688.5 853.2 L689.6 853.2 L690.6 854.6 L691.8 853.3 L692.9 853.6 L694.0 853.3 L695.1 854.8 L696.2 852.9 L697.3 852.8 L698.4 853.2 L699.5 852.6 L700.6 854.2 L701.7 852.6 L702.8 854.3 L703.9 854.7 L705.0 853.6 L706.1 854.4 L707.2 853.9 L708.3 853.1 L709.4 854.3 L710.5 854.7 L711.6 854.5 L712.7 853.2 L713.8 853.6 L714.9 852.5 L715.9 854.2 L717.1 853.2 L718.2 853.7 L719.3 853.7 L720.5 853.2 L721.6 853.4 L722.4 855.1 L723.6 854.8 L724.6 855.4 L725.7 855.4 L726.9 855.2 L728.1 854.8 L729.1 855.2 L730.2 855.3 L731.0 856.9 L732.1 857.2 L733.2 857.6 L734.4 856.9 L735.5 856.8 L736.6 856.8 L737.8 857.4 L738.9 857.3 L739.8 855.8 L740.7 855.2 L742.3 856.8 L743.2 855.9 L744.4 855.9 L745.4 855.5 L746.3 854.7 L747.0 853.1 L748.3 853.6 L749.3 852.9 L750.6 853.8 L751.7 853.8 L752.8 852.9 L753.8 853.7 L754.9 854.3 L756.1 852.7 L757.2 853.5 L758.3 853.5 L759.3 854.4 L760.4 854.7 L761.5 854.0 L762.5 855.4 L763.6 855.3 L764.9 853.7 L766.0 853.8 L767.0 854.7 L768.2 854.0 L769.1 855.6 L770.2 855.8 L771.2 856.2 L772.4 855.9 L773.5 855.6 L774.7 855.6 L775.8 855.6 L776.9 855.2 L778.0 855.5 L779.0 856.6 L780.2 856.1 L781.2 856.4 L782.4 856.1 L783.3 857.4 L784.4 857.5 L785.3 858.5 L786.6 857.5 L787.6 858.3 L788.7 858.1 L789.9 857.9 L790.8 859.5 L792.0 858.5 L793.2 858.2 L794.1 859.6 L795.4 858.0 L796.5 858.4 L797.4 860.3 L798.6 858.6 L799.7 859.3 L800.6 860.5 L801.7 860.6 L803.0 859.6 L804.0 860.2 L805.0 861.1 L806.2 860.6 L807.3 860.4 L808.4 860.7 L809.6 859.4 L810.7 859.6 L811.7 861.0 L812.8 861.2 L813.9 861.2 L815.0 860.6 L816.1 861.2 L817.2 861.2 L818.3 860.8 L819.3 862.5 L820.5 860.5 L821.5 862.8 L822.7 860.6 L823.8 861.2 L824.9 861.2 L826.0 861.0 L827.1 861.5 L828.1 861.6 L829.2 860.9 L830.4 862.3 L831.3 860.6 L832.6 862.1 L833.8 862.5 L834.9 862.1 L836.0 862.0 L836.8 860.5 L837.9 860.4 L839.1 860.9 L840.0 859.7 L841.2 860.4 L842.2 860.2 L843.4 859.5 L844.5 859.4 L845.3 861.2 L846.7 860.2 L847.5 861.5 L849.0 860.2 L849.9 860.8 L851.1 860.6 L851.7 862.5 L853.2 861.5 L854.0 862.5 L855.1 862.7 L856.2 863.0 L857.4 862.2 L858.4 862.8 L859.3 864.2 L860.6 863.4 L861.5 864.7 L862.8 863.1 L863.7 864.9 L864.8 865.0 L866.0 864.5 L867.1 864.0 L868.2 864.1 L869.3 864.3 L870.4 864.6 L871.4 865.3 L872.6 864.5 L873.6 865.8 L874.8 864.1 L875.8 866.2 L876.9 864.7 L878.0 865.7 L879.1 865.2 L880.2 864.1 L881.3 864.7 L882.4 865.5 L883.5 866.3 L884.6 866.0 L885.7 866.4 L886.8 865.0 L887.9 865.5 L889.0 864.7 L890.1 864.6 L891.2 864.0 L892.3 864.5 L893.4 865.1 L894.5 864.5 L895.6 866.2 L896.7 864.5 L897.8 866.2 L898.9 866.3 L900.0 866.0 L901.1 865.4 L902.2 865.5 L903.4 865.4 L904.5 865.4 L905.4 866.5 L906.4 866.8 L907.6 866.5 L908.8 866.0 L910.0 865.8 L910.9 867.2 L912.1 866.3 L913.2 866.4 L914.1 867.9 L915.3 866.9 L916.3 867.9 L917.4 868.4 L918.5 867.6 L919.6 869.3 L920.7 868.1 L921.8 867.4 L922.9 867.9 L924.0 867.8 L925.1 867.9 L926.2 868.6 L927.3 867.3 L928.4 869.1 L929.5 869.4 L930.6 867.2 L931.7 869.1 L932.8 868.9 L933.9 869.2 L935.0 868.6 L936.1 867.3 L937.2 868.2 L938.3 869.0 L939.4 869.4 L940.5 868.1 L941.6 867.8 L942.7 868.8 L943.7 869.4 L944.9 868.5 L946.0 868.7 L947.1 867.5 L948.2 867.3 L949.3 868.8 L950.3 869.8 L951.5 868.7 L952.6 868.2 L953.7 868.5 L954.7 869.7 L955.8 869.4 L957.0 868.9 L958.0 869.6 L959.2 868.6 L960.2 870.3 L961.4 868.9 L962.4 870.5 L963.5 869.9 L964.7 868.6 L965.8 869.4 L966.9 868.7 L967.9 870.5 L969.1 869.0 L970.0 871.3 L971.2 869.9 L972.4 869.8 L973.4 870.1 L974.4 871.4 L975.6 870.5 L976.6 871.8 L977.7 871.6 L978.9 870.5 L980.0 871.0 L981.1 870.7 L982.1 872.2 L983.3 870.9 L984.4 871.1 L985.4 872.3 L986.5 872.1 L987.7 871.0 L988.7 872.9 L989.8 872.2 L990.9 872.2 L992.1 871.4 L993.2 871.4 L994.2 872.6 L995.3 872.0 L996.4 872.4 L997.5 871.5 L998.6 872.0 L999.7 872.6 L1000.8 873.0 L1001.9 872.9 L1003.0 871.5 L1004.1 872.6 L1005.2 872.9 L1006.3 873.3 L1007.4 872.1 L1008.6 873.0 L1009.5 871.0 L1010.7 872.3 L1011.7 871.2 L1012.8 870.8 L1014.0 871.8 L1015.0 871.2 L1016.1 871.1 L1017.3 871.8 L1018.4 871.0 L1019.5 871.2 L1020.6 871.1 L1021.7 871.6 L1022.8 872.6 L1023.9 870.5 L1025.0 871.1 L1026.1 872.0 L1027.2 871.0 L1028.3 872.4 L1029.4 871.0 L1030.5 870.8 L1031.6 870.7 L1032.7 872.1 L1033.8 870.6 L1034.9 871.7 L1036.0 870.5 L1037.1 871.9 L1038.2 871.4 L1039.3 872.1 L1040.3 872.7 L1041.4 872.7 L1042.6 871.3 L1043.7 871.5 L1044.8 871.1 L1045.8 873.2 L1047.0 871.1 L1048.1 871.0 L1049.1 873.2 L1050.3 871.1 L1051.4 871.6 L1052.5 871.1 L1053.5 873.2 L1054.7 872.3 L1055.7 873.3 L1056.9 872.6 L1058.0 872.5 L1059.1 872.1 L1060.2 871.8 L1061.2 873.1 L1062.4 871.7 L1063.5 871.4 L1064.6 872.6 L1065.7 871.7 L1066.8 871.9 L1067.8 873.4 L1069.0 873.0 L1070.1 871.5 L1071.2 873.5 L1072.3 873.5 L1073.4 873.5 L1074.5 872.6 L1075.6 872.2 L1076.7 873.3 L1077.8 873.5 L1078.9 873.2 L1080.0 873.5 L1081.0 871.5 L1082.1 871.3 L1083.3 872.9 L1084.3 871.7 L1085.5 872.8 L1086.6 872.0 L1087.7 872.6 L1088.7 871.8 L1089.8 871.6 L1090.9 871.6 L1092.1 872.8 L1093.2 872.9 L1094.2 871.1 L1095.4 872.5 L1096.5 873.4 L1097.6 873.2 L1098.6 871.1 L1099.8 872.3 L1100.9 873.0 L1102.0 872.6 L1103.1 872.3 L1104.1 871.6 L1105.2 871.0 L1106.4 872.1 L1107.5 872.4 L1108.6 872.2 L1109.6 871.4 L1110.8 873.0 L1111.8 871.8 L1112.9 871.3 L1114.1 872.5 L1115.2 872.2 L1116.3 872.5 L1117.3 871.3 L1118.4 871.3 L1119.5 870.8 L1120.6 870.5 L1121.7 870.5 L1122.9 872.6 L1124.0 872.5 L1125.1 872.0 L1126.1 870.6 L1127.2 870.8 L1128.4 872.2 L1129.4 870.3 L1130.6 871.9 L1131.6 870.4 L1132.7 871.9 L1133.8 870.9 L1134.9 872.2 L1136.0 871.7 L1137.1 871.0 L1138.2 872.0 L1139.4 870.5 L1140.5 870.5 L1141.6 871.4 L1142.6 871.9 L1143.7 872.1 L1144.8 872.8 L1146.0 871.0 L1147.1 871.3 L1148.2 871.3 L1149.3 870.8 L1150.4 871.1 L1151.5 871.1 L1152.6 870.8 L1153.6 872.9 L1154.8 871.4 L1155.9 871.8 L1156.9 873.2 L1158.0 873.3 L1159.1 873.3 L1160.2 873.1 L1161.3 872.8 L1162.4 873.4 L1163.5 873.7 L1164.6 873.6 L1165.7 872.5 L1166.8 873.5 L1167.9 872.5 L1169.1 871.9 L1170.1 873.0 L1171.2 873.8 L1172.4 872.2 L1173.5 872.4 L1174.4 874.2 L1175.6 874.0 L1176.7 873.0 L1177.8 873.8 L1178.9 872.7 L1180.0 874.1 L1181.0 874.3 L1182.1 874.8 L1183.3 873.0 L1184.4 873.3 L1185.5 873.5 L1186.5 874.7 L1187.6 874.7 L1188.7 874.7 L1189.9 873.1 L1191.0 873.9 L1192.1 873.8 L1193.2 874.1 L1194.3 873.3 L1195.4 874.4 L1196.5 873.9 L1197.5 875.6 L1198.7 873.5 L1199.7 875.8 L1200.9 874.5 L1202.0 875.0 L1203.0 875.7 L1204.2 875.1 L1205.3 874.3 L1206.3 875.9 L1207.5 875.1 L1208.5 875.4 L1209.6 875.6 L1210.8 875.1 L1211.9 874.9 L1212.9 875.9 L1214.1 874.2 L1215.2 874.9 L1216.3 874.9 L1217.4 875.0 L1218.5 874.6 L1219.6 874.5 L1220.7 874.6 L1221.8 875.3 L1222.8 875.9 L1223.9 875.6 L1225.1 875.4 L1226.1 876.3 L1227.3 875.2 L1228.3 876.2 L1229.5 875.0 L1230.5 875.8 L1231.7 874.4 L1232.7 875.7 L1233.8 875.8 L1234.9 875.9 L1236.0 876.6 L1237.1 876.3 L1238.3 874.6 L1239.3 876.7 L1240.4 875.6 L1241.5 876.3 L1242.7 875.6 L1243.7 876.6 L1244.8 876.5 L1245.9 876.8 L1247.0 875.9 L1248.2 875.0 L1249.2 876.8 L1250.4 875.3 L1251.5 874.5 L1252.5 875.8 L1253.6 875.8 L1254.8 875.2 L1255.9 875.2 L1257.0 875.6 L1258.0 875.7 L1258.4 875.7" stroke="#ff692b" stroke-width="7.8" stroke-linecap="round"/>
<path d="M154.0 30.7 L154.1 31.8 L154.2 32.9 L154.3 34.0 L154.4 35.1 L154.5 36.2 L154.6 37.3 L154.7 38.4 L154.8 39.5 L154.9 40.6 L155.0 41.7 L155.1 42.8 L155.2 43.8 L155.3 44.9 L155.4 46.0 L155.5 47.1 L155.6 48.2 L155.8 49.3 L155.9 50.4 L156.0 51.5 L156.1 52.6 L156.3 53.7 L156.4 54.8 L156.5 55.9 L156.6 57.0 L156.8 58.1 L156.9 59.2 L157.0 60.2 L157.2 61.3 L157.3 62.4 L157.4 63.5 L157.6 64.6 L157.7 65.7 L157.9 66.8 L158.0 67.9 L158.2 69.0 L158.3 70.1 L158.5 71.1 L158.6 72.2 L158.7 73.3 L158.9 74.4 L159.0 75.5 L159.2 76.6 L159.3 77.7 L159.4 78.8 L159.5 79.9 L159.6 81.0 L159.7 82.1 L159.8 83.2 L159.9 84.3 L160.0 85.4 L160.1 86.5 L160.1 87.6 L160.2 88.7 L160.3 89.8 L160.3 90.9 L160.4 92.0 L160.5 93.0 L160.5 94.1 L160.6 95.2 L160.7 96.3 L160.7 97.4 L160.8 98.5 L160.8 99.6 L160.9 100.7 L160.9 101.8 L161.0 102.9 L161.0 104.0 L161.1 105.1 L161.1 106.2 L161.2 107.3 L161.3 108.4 L161.3 109.5 L161.4 110.6 L161.4 111.7 L161.5 112.8 L161.5 113.9 L161.6 115.0 L161.7 116.1 L161.7 117.2 L161.8 118.3 L161.8 119.4 L161.9 120.5 L162.0 121.6 L162.0 122.7 L162.1 123.8 L162.2 124.9 L162.2 126.0 L162.3 127.1 L162.3 128.2 L162.4 129.3 L162.5 130.4 L162.5 131.5 L162.6 132.6 L162.7 133.7 L162.7 134.8 L162.8 135.9 L162.8 137.0 L162.9 138.1 L163.0 139.2 L163.0 140.3 L163.1 141.4 L163.2 142.5 L163.2 143.6 L163.3 144.7 L163.3 145.8 L163.4 146.9 L163.5 148.0 L163.5 149.1 L163.6 150.2 L163.6 151.3 L163.7 152.4 L163.7 153.5 L163.8 154.6 L163.9 155.7 L163.9 156.8 L164.0 157.9 L164.0 159.0 L164.1 160.1 L164.1 161.2 L164.2 162.2 L164.3 163.3 L164.3 164.4 L164.4 165.5 L164.4 166.6 L164.5 167.7 L164.5 168.8 L164.6 169.9 L164.7 171.0 L164.7 172.1 L164.8 173.2 L164.8 174.3 L164.9 175.4 L164.9 176.5 L165.0 177.6 L165.0 178.7 L165.1 179.8 L165.1 180.9 L165.2 182.0 L165.3 183.1 L165.3 184.2 L165.4 185.3 L165.4 186.4 L165.5 187.5 L165.5 188.6 L165.6 189.7 L165.6 190.8 L165.7 191.9 L165.7 193.0 L165.8 194.1 L165.9 195.2 L165.9 196.3 L166.0 197.4 L166.0 198.5 L166.1 199.6 L166.1 200.7 L166.2 201.8 L166.2 202.9 L166.3 204.0 L166.4 205.1 L166.4 206.2 L166.5 207.3 L166.5 208.4 L166.6 209.5 L166.6 210.6 L166.7 211.7 L166.8 212.8 L166.8 213.9 L166.9 215.0 L166.9 216.1 L167.0 217.2 L167.1 218.3 L167.1 219.4 L167.2 220.5 L167.2 221.6 L167.3 222.7 L167.4 223.8 L167.4 224.9 L167.5 226.0 L167.6 227.1 L167.6 228.2 L167.7 229.3 L167.7 230.4 L167.8 231.5 L167.9 232.6 L167.9 233.7 L168.0 234.7 L168.1 235.8 L168.1 236.9 L168.2 238.0 L168.3 239.1 L168.3 240.2 L168.4 241.3 L168.5 242.4 L168.6 243.5 L168.6 244.6 L168.7 245.7 L168.8 246.8 L168.9 247.9 L168.9 249.0 L169.0 250.1 L169.1 251.2 L169.2 252.3 L169.2 253.4 L169.3 254.5 L169.4 255.6 L169.5 256.7 L169.6 257.8 L169.6 258.9 L169.7 260.0 L169.8 261.1 L169.9 262.2 L170.0 263.3 L170.1 264.4 L170.2 265.5 L170.2 266.6 L170.3 267.7 L170.4 268.8 L170.5 269.9 L170.6 271.0 L170.7 272.1 L170.8 273.1 L170.9 274.2 L170.9 275.3 L171.0 276.4 L171.1 277.5 L171.2 278.6 L171.3 279.7 L171.4 280.8 L171.5 281.9 L171.6 283.0 L171.7 284.1 L171.7 285.2 L171.8 286.3 L171.9 287.4 L172.0 288.5 L172.1 289.6 L172.2 290.7 L172.3 291.8 L172.4 292.9 L172.5 294.0 L172.6 295.1 L172.6 296.2 L172.7 297.3 L172.8 298.4 L172.9 299.5 L173.0 300.6 L173.1 301.7 L173.2 302.8 L173.3 303.8 L173.3 304.9 L173.4 306.0 L173.5 307.1 L173.6 308.2 L173.7 309.3 L173.8 310.4 L173.9 311.5 L173.9 312.6 L174.0 313.7 L174.1 314.8 L174.2 315.9 L174.3 317.0 L174.3 318.1 L174.4 319.2 L174.5 320.3 L174.6 321.4 L174.7 322.5 L174.7 323.6 L174.8 324.7 L174.9 325.8 L175.0 326.9 L175.0 328.0 L175.1 329.1 L175.2 330.2 L175.2 331.3 L175.3 332.4 L175.4 333.5 L175.4 334.6 L175.5 335.7 L175.6 336.8 L175.6 337.9 L175.7 339.0 L175.8 340.1 L175.8 341.2 L175.9 342.3 L175.9 343.4 L176.0 344.5 L176.1 345.6 L176.1 346.7 L176.2 347.8 L176.2 348.8 L176.3 349.9 L176.3 351.0 L176.4 352.1 L176.4 353.2 L176.5 354.3 L176.5 355.4 L176.6 356.5 L176.6 357.6 L176.7 358.7 L176.7 359.8 L176.8 360.9 L176.8 362.0 L176.9 363.1 L176.9 364.2 L177.0 365.3 L177.0 366.4 L177.1 367.5 L177.1 368.6 L177.2 369.7 L177.2 370.8 L177.2 371.9 L177.3 373.0 L177.3 374.1 L177.4 375.2 L177.4 376.3 L177.5 377.4 L177.5 378.5 L177.5 379.6 L177.6 380.7 L177.6 381.8 L177.7 382.9 L177.7 384.0 L177.8 385.1 L177.8 386.2 L177.8 387.3 L177.9 388.4 L177.9 389.5 L178.0 390.6 L178.0 391.7 L178.0 392.8 L178.1 393.9 L178.1 395.0 L178.2 396.1 L178.2 397.2 L178.3 398.3 L178.3 399.4 L178.3 400.5 L178.4 401.6 L178.4 402.7 L178.5 403.8 L178.5 404.9 L178.6 406.0 L178.6 407.1 L178.7 408.2 L178.7 409.3 L178.7 410.4 L178.8 411.5 L178.8 412.6 L178.9 413.7 L178.9 414.8 L179.0 415.9 L179.0 417.0 L179.1 418.1 L179.1 419.2 L179.2 420.3 L179.2 421.4 L179.3 422.5 L179.3 423.6 L179.4 424.7 L179.4 425.8 L179.5 426.9 L179.5 428.0 L179.6 429.1 L179.7 430.2 L179.7 431.3 L179.8 432.4 L179.8 433.5 L179.9 434.6 L180.0 435.7 L180.0 436.8 L180.1 437.9 L180.1 439.0 L180.2 440.1 L180.3 441.2 L180.3 442.3 L180.4 443.4 L180.5 444.5 L180.5 445.6 L180.6 446.6 L180.7 447.7 L180.8 448.8 L180.8 449.9 L180.9 451.0 L181.0 452.1 L181.1 453.2 L181.1 454.3 L181.2 455.4 L181.3 456.5 L181.4 457.6 L181.5 458.7 L181.6 459.8 L181.7 460.9 L181.8 462.0 L181.8 463.1 L181.9 464.2 L182.0 465.3 L182.1 466.4 L182.2 467.5 L182.3 468.6 L182.4 469.7 L182.5 470.8 L182.6 471.9 L182.7 473.0 L182.8 474.1 L182.9 475.2 L183.1 476.2 L183.2 477.3 L183.3 478.4 L183.4 479.5 L183.5 480.6 L183.6 481.7 L183.7 482.8 L183.8 483.9 L183.9 485.0 L184.0 486.1 L184.2 487.2 L184.3 488.3 L184.4 489.4 L184.5 490.5 L184.6 491.6 L184.7 492.7 L184.9 493.8 L185.0 494.8 L185.1 495.9 L185.2 497.0 L185.3 498.1 L185.5 499.2 L185.6 500.3 L185.7 501.4 L185.8 502.5 L186.0 503.6 L186.1 504.7 L186.2 505.8 L186.3 506.9 L186.4 508.0 L186.6 509.1 L186.7 510.2 L186.8 511.2 L186.9 512.3 L187.1 513.4 L187.2 514.5 L187.3 515.6 L187.4 516.7 L187.6 517.8 L187.7 518.9 L187.8 520.0 L187.9 521.1 L188.1 522.2 L188.2 523.3 L188.3 524.4 L188.4 525.5 L188.6 526.5 L188.7 527.6 L188.8 528.7 L188.9 529.8 L189.0 530.9 L189.2 532.0 L189.3 533.1 L189.4 534.2 L189.5 535.3 L189.7 536.4 L189.8 537.5 L189.9 538.6 L190.0 539.7 L190.1 540.8 L190.2 541.9 L190.4 542.9 L190.5 544.0 L190.6 545.1 L190.7 546.2 L190.8 547.3 L190.9 548.4 L191.1 549.5 L191.2 550.6 L191.3 551.7 L191.4 552.8 L191.5 553.9 L191.6 555.0 L191.7 556.1 L191.8 557.2 L191.9 558.3 L192.0 559.4 L192.1 560.5 L192.2 561.6 L192.3 562.6 L192.4 563.7 L192.5 564.8 L192.6 565.9 L192.7 567.0 L192.8 568.1 L192.9 569.2 L193.0 570.3 L193.1 571.4 L193.2 572.5 L193.3 573.6 L193.4 574.7 L193.5 575.8 L193.6 576.9 L193.7 578.0 L193.8 579.1 L193.9 580.2 L194.0 581.3 L194.2 582.4 L194.3 583.5 L194.4 584.6 L194.5 585.6 L194.6 586.7 L194.8 587.8 L194.8 588.9 L195.1 590.0 L195.1 591.1 L195.2 592.2 L195.4 593.3 L195.5 594.4 L195.6 595.5 L195.9 596.6 L196.0 597.7 L196.2 598.7 L196.3 599.8 L196.5 600.9 L196.6 602.0 L196.6 603.1 L196.7 604.2 L196.9 605.3 L197.1 606.4 L197.2 607.5 L197.8 608.5 L197.7 609.6 L198.3 610.6 L198.2 611.8 L198.2 612.9 L198.7 613.9 L199.1 615.0 L199.3 616.0 L199.5 617.1 L199.3 618.3 L199.5 619.4 L200.0 620.4 L200.0 621.5 L200.5 622.5 L201.2 623.5 L201.4 624.6 L201.3 625.7 L201.6 626.8 L201.9 627.9 L202.4 628.9 L203.1 629.8 L202.3 631.2 L203.6 632.0 L202.8 633.3 L204.3 634.0 L203.3 635.4 L204.5 636.3 L204.1 637.5 L205.6 638.3 L205.2 639.5 L205.8 640.5 L205.2 641.8 L205.5 642.8 L206.2 643.8 L206.0 645.0 L205.7 646.2 L207.6 646.8 L207.0 648.1 L207.0 649.3 L207.3 650.3 L208.3 651.2 L207.3 652.6 L208.9 653.3 L207.8 654.7 L208.9 655.6 L209.9 656.5 L208.6 657.9 L210.6 658.6 L209.1 660.0 L209.9 661.0 L209.4 662.2 L209.8 663.3 L211.1 664.1 L212.1 665.0 L212.0 666.2 L212.9 667.1 L211.4 668.5 L213.3 669.3 L213.3 670.4 L213.3 671.4 L213.3 672.6 L212.9 673.9 L214.0 674.7 L214.3 675.7 L215.9 676.3 L215.6 677.6 L216.4 678.4 L215.1 680.1 L217.9 680.2 L216.3 682.0 L216.5 683.2 L217.5 683.9 L219.5 684.3 L219.2 685.6 L219.7 686.6 L220.0 687.7 L220.4 688.7 L218.5 690.8 L219.8 691.5 L220.1 692.6 L221.3 693.2 L223.0 693.3 L221.9 695.4 L223.8 695.4 L225.4 695.7 L224.4 697.7 L226.4 697.6 L225.4 699.7 L226.2 700.4 L228.1 700.7 L227.9 701.9 L227.5 703.3 L228.1 704.2 L228.9 705.1 L230.4 705.7 L230.4 706.8 L229.6 708.4 L230.8 709.1 L230.4 710.4 L230.9 711.4 L232.4 712.0 L233.7 712.7 L232.1 714.5 L233.6 714.9 L233.8 716.1 L235.6 715.6 L236.5 716.3 L236.7 717.8 L237.0 719.1 L239.1 718.2 L238.4 720.6 L238.4 721.4 L239.4 722.2 L239.5 723.3 L241.6 723.8 L242.4 724.6 L242.0 726.0 L243.1 726.8 L242.4 728.1 L241.6 729.6 L243.6 730.1 L242.0 731.8 L243.8 732.3 L245.1 733.0 L243.9 734.6 L244.9 735.4 L245.7 736.2 L245.6 737.5 L244.6 739.2 L245.9 739.8 L247.8 740.1 L246.3 742.1 L249.2 741.9 L249.0 743.2 L249.6 744.1 L248.1 746.1 L251.8 745.5 L250.2 747.5 L251.1 748.3 L252.8 748.7 L251.7 750.5 L251.9 751.8 L252.8 752.6 L255.4 751.6 L254.3 754.2 L256.2 753.9 L255.7 755.9 L257.2 756.0 L259.2 755.5 L258.3 758.0 L259.5 758.3 L260.6 758.8 L260.9 760.1 L262.2 760.4 L264.0 760.1 L262.5 763.1 L264.9 762.3 L265.7 763.1 L267.1 763.4 L266.0 765.8 L266.2 767.1 L268.2 766.8 L268.0 768.5 L270.0 768.1 L270.6 769.1 L271.6 769.7 L272.3 770.5 L272.3 772.0 L273.7 772.2 L275.1 772.4 L274.2 774.7 L275.9 774.6 L276.5 775.6 L277.7 776.0 L278.9 776.4 L278.0 778.8 L279.4 778.6 L280.1 780.6 L281.8 777.5 L282.3 780.6 L284.0 778.0 L284.9 778.7 L286.4 778.4 L286.7 780.6 L287.8 781.1 L288.6 781.9 L287.4 784.2 L289.2 784.2 L288.9 785.9 L289.6 786.7 L291.9 786.3 L291.7 787.9 L293.6 787.7 L293.8 789.0 L293.6 790.5 L294.6 791.2 L296.7 791.0 L297.3 791.8 L296.2 794.4 L297.6 794.8 L298.8 794.4 L299.7 792.7 L301.1 794.6 L302.1 793.7 L303.0 792.0 L304.0 791.9 L305.4 793.4 L306.6 794.5 L307.5 793.0 L308.8 792.4 L308.6 794.3 L310.7 793.8 L310.4 795.7 L311.8 795.9 L313.5 795.7 L313.1 797.7 L313.9 798.5 L313.6 800.3 L314.9 800.5 L316.7 800.3 L316.6 801.9 L318.4 801.7 L318.2 803.5 L319.1 804.1 L319.8 804.9 L321.8 804.5 L321.3 806.9 L322.7 806.5 L323.8 807.1 L324.8 804.6 L326.0 807.0 L327.2 807.7 L328.2 806.3 L329.2 804.6 L330.5 807.4 L331.5 806.0 L332.8 804.9 L333.2 806.6 L333.6 808.0 L336.1 806.5 L336.0 808.4 L336.7 809.3 L337.0 810.8 L339.8 808.9 L339.6 810.9 L340.0 812.2 L341.1 812.7 L342.2 813.8 L343.5 813.0 L344.6 812.8 L345.7 812.6 L346.6 810.9 L348.0 813.3 L348.9 811.9 L350.7 810.6 L349.9 813.7 L351.0 814.1 L351.9 814.8 L354.2 814.0 L353.4 816.4 L355.1 816.2 L354.7 818.2 L357.1 817.3 L357.5 818.5 L358.9 818.6 L359.9 819.2 L359.9 820.7 L359.8 822.5 L361.3 822.5 L362.4 822.9 L361.6 825.4 L363.2 825.7 L364.7 826.6 L365.6 824.0 L366.6 823.5 L368.0 826.2 L368.7 822.9 L370.1 825.3 L371.3 825.7 L372.3 824.8 L373.3 824.1 L374.3 823.3 L375.4 822.9 L376.5 821.9 L377.8 823.2 L378.5 824.2 L379.9 824.2 L379.2 826.9 L380.0 827.7 L382.4 826.3 L382.6 827.9 L382.9 829.4 L384.4 829.2 L385.8 829.2 L385.6 831.3 L387.2 831.0 L388.3 831.3 L389.5 831.5 L390.1 829.6 L391.6 830.7 L392.2 828.9 L393.7 830.0 L394.4 828.3 L395.6 829.9 L396.9 828.8 L396.5 831.3 L399.1 829.6 L398.8 831.8 L399.4 832.9 L400.3 833.6 L401.9 833.2 L402.8 833.9 L404.2 833.8 L403.9 836.1 L405.0 836.4 L406.4 836.4 L407.5 836.3 L408.9 837.6 L409.7 836.1 L410.4 834.2 L411.4 834.0 L413.0 836.1 L413.9 835.0 L415.0 834.9 L416.0 834.2 L416.8 832.5 L418.4 835.0 L419.2 833.3 L420.3 833.7 L421.4 834.0 L422.9 833.4 L422.8 836.6 L423.8 837.0 L426.1 834.2 L427.0 834.8 L427.6 836.3 L427.8 838.7 L429.5 837.4 L430.4 839.3 L431.6 837.1 L432.7 837.5 L433.9 838.6 L435.0 837.9 L436.0 836.5 L437.1 837.0 L438.2 837.5 L439.4 836.8 L440.8 837.1 L441.5 837.9 L441.1 840.0 L443.2 839.4 L444.0 840.1 L444.6 841.1 L443.7 843.7 L444.5 844.4 L446.5 843.8 L448.0 843.9 L448.2 845.2 L448.0 847.1 L449.5 847.1 L449.5 848.7 L450.8 849.6 L452.4 849.5 L453.7 849.4 L454.4 847.8 L455.1 846.3 L456.8 848.1 L458.1 848.6 L458.8 847.1 L459.4 845.4 L461.2 847.4 L461.8 847.1 L462.0 847.2 L463.2 847.1 L463.4 848.5 L465.9 847.3 L465.9 849.0 L465.8 850.8 L466.6 851.5 L467.9 851.7 L469.3 851.8 L470.0 852.6 L471.4 852.7 L472.6 852.9 L471.9 855.5 L473.5 855.4 L474.7 855.4 L475.4 855.3 L476.2 854.4 L477.3 854.2 L478.8 855.5 L479.5 853.9 L480.6 853.7 L482.2 855.2 L482.5 852.3 L484.4 855.0 L485.0 852.8 L485.6 854.5 L486.5 854.9 L487.7 855.0 L489.7 853.5 L489.7 855.9 L491.0 855.7 L492.2 855.8 L492.8 856.9 L493.6 857.9 L495.0 857.5 L496.0 858.1 L497.3 858.0 L497.8 858.2 L498.9 859.3 L500.6 859.8 L499.8 856.5 L501.8 857.6 L502.6 856.9 L503.8 856.7 L503.9 854.8 L504.8 854.1 L505.7 853.6 L507.7 854.7 L508.7 854.1 L509.4 853.5 L510.1 851.5 L511.1 852.5 L512.2 852.7 L512.5 854.5 L514.2 853.6 L514.3 855.7 L515.2 856.4 L516.6 856.1 L518.2 855.5 L519.0 856.3 L519.4 857.8 L520.2 858.9 L521.4 857.3 L522.7 858.5 L524.1 859.0 L524.9 858.0 L526.1 858.2 L527.2 858.0 L527.4 855.3 L528.5 854.7 L529.4 857.0 L530.9 855.8 L532.3 855.5 L532.3 857.7 L533.5 857.8 L535.0 857.5 L534.6 860.3 L536.4 859.5 L536.3 861.7 L538.6 860.0 L539.9 859.9 L540.1 863.2 L540.7 860.6 L542.7 862.1 L543.0 860.2 L544.3 860.4 L544.4 858.1 L545.6 858.1 L547.3 858.9 L548.7 859.3 L549.5 858.4 L550.3 858.3 L550.5 857.8 L550.6 858.9 L553.2 857.5 L554.3 857.9 L554.8 858.9 L554.9 860.6 L556.2 860.7 L557.9 860.5 L558.5 861.4 L559.0 862.6 L559.7 863.4 L560.6 864.1 L560.9 865.5 L561.8 866.5 L563.4 866.6 L563.2 864.5 L565.4 865.1 L564.7 862.9 L565.6 862.3 L566.4 861.5 L568.0 861.6 L568.7 860.7 L568.7 859.2 L569.3 858.2 L569.4 856.7 L570.6 856.4 L571.0 855.2 L572.4 855.1 L573.5 853.6 L574.0 855.7 L574.4 856.8 L575.9 857.0 L576.6 857.8 L577.7 858.2 L576.8 860.5 L577.4 861.4 L579.1 861.4 L579.3 862.7 L581.3 862.4 L581.5 863.7 L582.8 864.0 L582.0 866.2 L583.6 866.2 L583.7 867.9 L585.5 867.6 L584.9 865.4 L586.3 865.1 L587.8 864.9 L589.4 864.8 L589.3 863.3 L589.2 861.8 L590.8 861.6 L591.4 860.7 L593.0 860.7 L592.7 859.0 L591.8 856.8 L595.2 858.2 L593.6 855.4 L594.9 855.0 L595.8 856.6 L596.6 856.1 L597.4 856.8 L598.8 856.7 L599.8 857.3 L600.9 857.6 L600.8 859.6 L602.5 859.1 L603.9 859.1 L604.6 860.0 L605.7 860.4 L604.9 863.3 L607.1 862.0 L607.5 862.1 L608.8 863.1 L609.2 861.5 L611.0 862.6 L611.8 861.8 L612.6 861.0 L613.5 860.1 L614.3 859.3 L615.5 859.0 L616.0 860.2 L618.2 858.9 L618.8 860.0 L618.7 862.0 L619.6 862.7 L620.8 862.9 L622.3 862.6 L623.3 863.1 L623.6 864.6 L625.1 864.4 L625.0 866.4 L625.9 867.1 L626.9 867.6 L628.1 868.0 L629.6 868.8 L630.4 867.3 L631.2 866.1 L632.2 865.6 L633.1 864.8 L634.7 866.3 L635.9 866.5 L636.8 865.7 L637.4 863.7 L639.0 865.4 L640.1 865.2 L640.8 863.6 L642.0 864.0 L643.2 862.0 L643.8 864.3 L645.8 863.2 L646.1 864.7 L646.1 866.7 L647.4 866.8 L648.8 866.6 L648.7 868.8 L650.2 868.6 L651.0 870.2 L652.5 868.7 L653.6 869.2 L654.7 869.1 L655.6 866.8 L656.7 867.1 L657.8 866.9 L658.9 867.1 L660.3 869.8 L661.2 868.6 L662.1 868.8 L662.7 869.8 L664.8 867.8 L665.0 870.1 L666.3 869.7 L667.6 869.7 L668.1 871.3 L669.0 871.9 L670.3 871.6 L671.2 872.3 L672.6 873.4 L673.2 871.2 L675.0 872.0 L675.2 870.3 L677.0 871.0 L677.5 869.8 L678.2 868.9 L679.9 869.4 L679.9 867.4 L680.2 865.9 L681.7 866.2 L682.8 865.8 L682.9 868.2 L685.1 866.1 L685.4 868.0 L686.5 868.3 L688.2 867.3 L688.3 869.7 L689.5 869.7 L690.7 869.7 L690.9 871.9 L693.2 869.6 L693.4 871.8 L694.9 871.1 L695.6 872.3 L696.4 871.4 L697.9 872.0 L699.2 872.2 L698.9 869.0 L700.5 869.8 L701.9 870.2 L702.2 868.3 L703.2 867.9 L705.2 869.4 L705.0 866.1 L706.3 867.6 L706.8 868.5 L707.7 869.1 L710.0 868.1 L708.8 871.3 L711.8 869.4 L712.6 870.1 L712.3 872.2 L714.2 871.6 L714.5 873.0 L714.3 875.0 L715.7 875.0 L716.7 875.8 L718.4 876.2 L717.6 873.1 L720.4 875.1 L720.6 873.4 L721.6 872.9 L721.1 870.3 L723.7 872.2 L723.6 870.2 L724.5 869.5 L725.9 869.6 L726.4 868.2 L726.8 870.2 L727.4 870.6 L729.5 869.6 L730.7 869.9 L731.2 871.0 L730.8 873.4 L733.2 872.0 L733.7 873.2 L735.2 873.0 L735.5 874.5 L735.4 876.5 L737.4 875.6 L738.6 874.8 L739.1 876.7 L740.4 876.3 L740.1 874.4 L740.3 873.0 L741.7 872.9 L743.6 873.2 L743.5 871.6 L743.2 869.7 L745.7 870.7 L745.4 868.8 L746.9 868.7 L747.3 867.7 L747.5 866.3 L748.8 866.0 L749.3 864.9 L750.7 864.9 L751.7 863.3 L751.4 866.6 L752.7 866.7 L753.8 867.0 L755.7 866.1 L755.2 868.8 L756.1 869.5 L758.7 867.5 L759.4 868.5 L760.5 868.7 L761.2 869.8 L761.1 871.9 L762.4 873.3 L763.6 871.3 L764.5 870.5 L766.0 871.0 L767.1 870.9 L767.6 869.3 L768.5 868.8 L769.4 868.0 L770.4 867.6 L771.4 867.1 L771.9 865.6 L774.1 867.8 L774.5 865.9 L775.2 866.2 L776.2 866.3 L775.9 867.9 L778.2 867.6 L777.1 869.8 L777.4 870.9 L780.4 870.0 L780.2 871.5 L782.0 871.5 L780.6 874.0 L782.0 874.4 L784.1 874.2 L782.2 876.9 L782.8 877.9 L785.4 877.3 L784.9 879.3 L785.3 877.5 L787.1 878.2 L786.7 876.7 L786.5 875.2 L787.9 874.8 L789.2 874.4 L788.3 872.4 L791.5 873.2 L790.7 871.4 L791.6 870.7 L793.6 870.6 L794.1 869.7 L794.0 868.3 L794.4 867.7 L794.1 868.2 L795.2 868.3 L796.0 869.0 L796.1 870.5 L798.8 869.3 L797.4 872.3 L800.0 871.2 L800.8 871.9 L800.6 873.7 L801.6 874.3 L802.4 875.1 L802.3 876.7 L805.3 875.2 L805.2 876.0 L805.7 875.9 L807.0 876.9 L807.9 875.9 L809.3 876.7 L810.1 875.6 L810.9 874.0 L812.6 876.4 L813.4 875.1 L814.4 874.5 L815.3 873.8 L816.8 875.6 L817.6 874.7 L819.2 873.3 L819.8 874.7 L820.1 877.1 L822.1 875.1 L823.3 875.0 L824.4 875.3 L825.4 875.7 L826.4 876.0 L826.9 877.8 L828.0 879.8 L829.7 879.1 L830.5 878.2 L830.2 876.1 L831.8 876.3 L831.3 873.8 L833.7 875.2 L833.5 873.1 L835.2 873.5 L835.3 871.8 L836.6 871.7 L837.4 871.0 L838.6 870.7 L838.9 869.3 L839.4 868.2 L841.1 868.6 L841.5 869.1 L842.9 868.7 L842.2 870.9 L844.3 870.4 L845.2 871.1 L846.0 871.9 L845.3 874.1 L847.8 873.2 L847.7 874.8 L848.7 875.4 L848.3 877.3 L851.4 875.6 L851.1 879.2 L851.8 876.4 L853.6 877.2 L853.4 874.8 L855.3 875.8 L855.5 874.1 L856.1 873.0 L857.1 872.4 L858.0 871.8 L859.6 873.8 L860.6 872.7 L861.8 872.7 L862.0 874.8 L863.4 874.4 L864.2 875.3 L865.8 874.6 L866.9 874.8 L868.0 875.1 L868.6 876.3 L869.5 877.0 L870.1 878.2 L871.5 877.9 L872.1 878.1 L872.3 877.0 L873.5 876.7 L874.7 876.3 L874.5 874.5 L876.8 875.3 L878.0 874.9 L877.9 873.3 L878.0 871.8 L880.5 872.7 L879.4 869.6 L881.1 869.4 L881.5 871.9 L882.4 872.5 L884.1 871.6 L885.5 871.2 L885.6 873.5 L887.1 873.0 L887.2 875.2 L889.5 873.1 L889.7 875.2 L891.3 874.5 L891.0 877.5 L891.9 878.1 L893.5 877.3 L894.5 878.2 L896.0 878.9 L897.3 878.2 L896.7 875.2 L898.1 875.3 L899.9 876.1 L899.8 874.0 L901.1 873.8 L903.1 875.0 L903.0 872.8 L903.9 873.1 L905.4 872.8 L906.5 873.3 L905.6 876.1 L906.7 876.4 L909.0 875.4 L908.0 878.3 L909.0 878.9 L911.1 878.0 L910.7 880.3 L913.3 878.9 L913.8 879.9 L913.2 882.4 L914.9 882.1 L915.9 882.5 L916.4 882.2 L916.9 881.4 L917.6 880.6 L919.1 880.7 L920.1 880.1 L920.0 878.3 L922.3 879.4 L921.7 876.9 L922.7 876.3 L925.2 877.7 L924.9 875.6 L925.2 874.2 L926.7 874.3 L927.6 872.7 L929.4 873.2 L928.7 876.4 L931.3 874.2 L931.1 876.8 L932.6 876.5 L933.9 876.4 L933.6 878.9 L935.3 878.4 L937.1 877.5 L937.4 879.1 L938.1 880.4 L938.9 879.5 L939.4 878.5 L940.4 877.9 L941.2 877.1 L942.4 877.0 L944.4 877.8 L945.1 876.9 L945.2 875.1 L946.8 875.4 L946.1 872.7 L947.8 873.4 L948.1 874.4 L950.0 873.2 L950.4 874.7 L951.4 875.1 L953.1 874.4 L952.5 877.6 L954.5 876.3 L955.1 877.5 L957.1 876.4 L957.1 878.5 L958.2 878.8 L958.3 880.7 L960.4 878.6 L961.3 881.4 L961.3 878.6 L963.4 880.1 L964.3 879.3 L965.0 878.3 L965.5 877.0 L966.6 876.7 L968.0 876.9 L968.4 875.4 L969.3 873.7 L970.3 876.2 L971.2 876.7 L972.9 875.8 L973.9 876.1 L973.7 878.8 L975.7 877.6 L977.1 877.2 L976.7 880.3 L978.8 878.8 L979.5 879.8 L980.1 880.9 L981.3 881.1 L982.7 880.8 L983.6 881.4 L984.1 882.8 L985.5 882.0 L986.3 884.8 L986.6 882.2 L987.4 881.3 L988.4 880.9 L989.4 880.4 L991.6 882.1 L991.7 880.1 L993.3 880.6 L994.3 880.3 L994.4 877.3 L995.6 879.2 L996.1 880.3 L998.1 879.0 L997.8 881.7 L999.5 881.0 L1000.5 881.5 L1000.6 883.5 L1003.0 881.5 L1002.6 884.4 L1004.5 882.7 L1005.4 883.6 L1005.6 881.5 L1007.1 881.9 L1007.9 881.1 L1009.7 882.3 L1011.0 882.5 L1010.7 879.3 L1011.5 878.5 L1013.5 880.0 L1015.0 880.5 L1015.9 879.9 L1016.7 879.1 L1017.5 878.2 L1018.2 877.2 L1019.4 874.9 L1019.0 878.5 L1020.7 878.2 L1021.8 878.5 L1023.6 877.9 L1024.2 879.1 L1024.7 880.2 L1024.2 882.6 L1025.7 882.4 L1026.5 883.2 L1028.0 883.0 L1028.7 884.7 L1029.2 882.4 L1030.2 882.1 L1031.6 882.3 L1032.0 880.7 L1034.2 882.4 L1034.1 879.9 L1035.4 880.1 L1037.2 881.0 L1037.2 878.6 L1038.3 879.2 L1039.1 879.9 L1040.5 879.5 L1041.8 879.3 L1042.4 880.6 L1043.1 882.0 L1044.6 881.1 L1045.3 882.4 L1046.9 881.4 L1047.7 882.3 L1048.6 884.6 L1049.0 881.1 L1051.2 883.5 L1051.0 880.2 L1053.1 882.3 L1053.5 880.5 L1054.9 881.1 L1055.3 879.1 L1056.2 878.5 L1057.1 877.8 L1058.0 877.1 L1059.5 877.9 L1060.1 876.3 L1061.4 876.7 L1063.0 878.3 L1063.5 877.8 L1064.9 877.3 L1066.5 876.6 L1067.4 877.1 L1066.9 880.7 L1068.8 879.4 L1069.5 880.4 L1070.2 881.4 L1071.6 881.5 L1073.0 881.5 L1073.7 880.4 L1074.6 879.8 L1075.6 879.2 L1077.2 880.3 L1078.4 880.2 L1078.6 877.7 L1079.3 876.7 L1081.3 878.7 L1081.5 876.2 L1083.1 877.2 L1083.7 875.1 L1084.6 876.5 L1086.1 876.2 L1087.5 875.9 L1088.5 876.4 L1088.9 877.9 L1089.6 878.9 L1090.5 879.4 L1091.5 880.0 L1092.3 880.7 L1093.9 880.2 L1094.0 882.4 L1095.4 882.9 L1095.8 881.1 L1096.7 880.4 L1096.7 878.8 L1097.3 877.8 L1098.6 877.6 L1099.9 877.4 L1099.9 875.8 L1101.3 875.7 L1102.4 875.3 L1103.4 874.8 L1104.7 874.6 L1105.0 873.3 L1106.3 872.3 L1107.1 873.5 L1107.7 874.5 L1108.3 875.5 L1109.4 875.8 L1110.3 876.5 L1110.0 878.6 L1111.4 878.6 L1111.7 880.0 L1114.3 878.6 L1114.0 880.7 L1115.3 880.8 L1115.9 880.5 L1115.8 879.2 L1118.6 880.7 L1117.4 877.6 L1120.2 879.1 L1119.9 877.1 L1121.9 877.7 L1120.8 874.8 L1121.6 874.1 L1123.3 874.3 L1124.6 874.2 L1125.2 873.7 L1126.4 873.0 L1126.4 874.8 L1127.8 874.9 L1129.2 875.0 L1130.1 875.6 L1130.6 876.7 L1129.9 879.2 L1132.2 878.3 L1132.3 879.7 L1134.1 879.4 L1132.9 882.4 L1133.9 882.9 L1136.5 881.7 L1137.2 882.6 L1136.6 885.2 L1137.8 883.7 L1137.7 882.6 L1139.8 882.9 L1139.2 881.0 L1139.7 880.0 L1142.0 880.5 L1143.6 880.4 L1142.2 877.8 L1144.7 878.5 L1144.8 877.1 L1146.2 876.8 L1145.4 874.7 L1146.2 873.9 L1147.5 873.6 L1147.4 871.8 L1149.0 871.8 L1150.4 872.4 L1149.1 874.9 L1150.9 874.9 L1152.5 875.0 L1151.1 877.6 L1153.7 876.9 L1154.9 877.3 L1154.3 879.2 L1154.6 880.4 L1155.6 881.0 L1156.0 882.1 L1157.3 882.4 L1156.9 884.2 L1158.3 884.6 L1158.7 883.4 L1161.0 884.4 L1159.5 881.7 L1161.0 881.5 L1162.4 881.3 L1164.1 881.3 L1163.1 879.0 L1163.4 877.8 L1165.4 878.1 L1166.5 877.6 L1165.9 875.6 L1167.1 875.2 L1168.4 874.9 L1168.7 873.7 L1170.3 873.6 L1169.2 871.0 L1170.5 872.6 L1172.5 871.0 L1172.7 872.5 L1172.2 874.6 L1173.9 874.5 L1173.7 876.3 L1175.3 876.2 L1175.7 877.4 L1177.8 876.7 L1178.0 878.1 L1178.9 878.8 L1180.1 879.1 L1180.5 880.2 L1180.9 881.5 L1181.0 883.0 L1182.8 882.7 L1183.5 881.1 L1184.7 881.7 L1185.6 881.0 L1186.5 880.5 L1187.8 880.7 L1188.7 879.8 L1190.3 881.0 L1190.9 879.4 L1192.5 880.5 L1192.7 878.1 L1194.7 880.0 L1194.7 876.6 L1195.8 878.3 L1197.7 877.6 L1198.3 878.6 L1197.8 880.9 L1199.2 880.9 L1200.4 881.2 L1202.0 881.1 L1200.9 884.0 L1202.3 884.1 L1204.5 883.1 L1204.3 884.5 L1205.3 884.5 L1205.6 882.5 L1206.6 882.2 L1208.5 883.5 L1209.9 883.8 L1210.0 881.6 L1210.5 880.1 L1212.2 881.0 L1213.6 881.5 L1214.6 881.0 L1215.6 880.6 L1216.5 880.1 L1217.1 879.7 L1218.7 878.0 L1219.0 880.4 L1219.6 881.7 L1221.2 880.6 L1222.6 880.3 L1222.8 882.7 L1223.9 882.7 L1225.2 882.5 L1227.0 881.1 L1227.3 882.8 L1228.2 882.4 L1229.7 883.1 L1231.0 883.4 L1231.4 881.5 L1232.4 880.9 L1233.6 881.0 L1234.6 880.5 L1235.7 880.4 L1236.2 878.5 L1237.6 878.8 L1237.8 880.5 L1239.2 880.4 L1240.4 880.7 L1241.8 880.7 L1242.6 881.4 L1243.7 881.8 L1242.6 884.8 L1244.3 884.6 L1244.7 885.7 L1245.7 886.4 L1246.7 886.8 L1248.7 886.1 L1248.8 887.7 L1249.2 887.8 L1248.4 886.6 L1250.5 886.5 L1252.4 886.3 L1253.0 885.4 L1250.9 883.0 L1253.5 883.1 L1251.6 880.8 L1252.5 880.1 L1253.0 879.1 L1254.0 878.4 L1253.7 877.0 L1254.8 876.3 L1254.9 875.1 L1256.9 875.6 L1256.7 876.6 L1258.3 876.5 L1259.0 877.0" stroke="#ff0000" stroke-width="7.8" stroke-linecap="round"/>
<path d="M154.0 30.7 L154.1 31.8 L154.2 32.9 L154.3 34.0 L154.4 35.1 L154.5 36.2 L154.6 37.3 L154.7 38.4 L154.8 39.5 L154.9 40.6 L155.0 41.7 L155.1 42.8 L155.2 43.8 L155.3 44.9 L155.4 46.0 L155.5 47.1 L155.6 48.2 L155.8 49.3 L155.9 50.4 L156.0 51.5 L156.1 52.6 L156.3 53.7 L156.4 54.8 L156.5 55.9 L156.6 57.0 L156.8 58.1 L156.9 59.2 L157.0 60.2 L157.2 61.3 L157.3 62.4 L157.4 63.5 L157.6 64.6 L157.7 65.7 L157.9 66.8 L158.0 67.9 L158.2 69.0 L158.3 70.1 L158.5 71.1 L158.6 72.2 L158.7 73.3 L158.9 74.4 L159.0 75.5 L159.2 76.6 L159.3 77.7 L159.4 78.8 L159.5 79.9 L159.6 81.0 L159.7 82.1 L159.8 83.2 L159.9 84.3 L160.0 85.4 L160.1 86.5 L160.1 87.6 L160.2 88.7 L160.3 89.8 L160.3 90.9 L160.4 92.0 L160.5 93.0 L160.5 94.1 L160.6 95.2 L160.7 96.3 L160.7 97.4 L160.8 98.5 L160.8 99.6 L160.9 100.7 L160.9 101.8 L161.0 102.9 L161.0 104.0 L161.1 105.1 L161.1 106.2 L161.2 107.3 L161.3 108.4 L161.3 109.5 L161.4 110.6 L161.4 111.7 L161.5 112.8 L161.5 113.9 L161.6 115.0 L161.7 116.1 L161.7 117.2 L161.8 118.3 L161.8 119.4 L161.9 120.5 L162.0 121.6 L162.0 122.7 L162.1 123.8 L162.2 124.9 L162.2 126.0 L162.3 127.1 L162.3 128.2 L162.4 129.3 L162.5 130.4 L162.5 131.5 L162.6 132.6 L162.7 133.7 L162.7 134.8 L162.8 135.9 L162.8 137.0 L162.9 138.1 L163.0 139.2 L163.0 140.3 L163.1 141.4 L163.2 142.5 L163.2 143.6 L163.3 144.7 L163.3 145.8 L163.4 146.9 L163.5 148.0 L163.5 149.1 L163.6 150.2 L163.6 151.3 L163.7 152.4 L163.7 153.5 L163.8 154.6 L163.9 155.7 L163.9 156.8 L164.0 157.9 L164.0 159.0 L164.1 160.1 L164.2 161.2 L164.2 162.2 L164.3 163.3 L164.3 164.4 L164.4 165.5 L164.4 166.6 L164.5 167.7 L164.5 168.8 L164.6 169.9 L164.7 171.0 L164.7 172.1 L164.8 173.2 L164.8 174.3 L164.9 175.4 L164.9 176.5 L165.0 177.6 L165.0 178.7 L165.1 179.8 L165.1 180.9 L165.2 182.0 L165.3 183.1 L165.3 184.2 L165.4 185.3 L165.4 186.4 L165.5 187.5 L165.5 188.6 L165.6 189.7 L165.6 190.8 L165.7 191.9 L165.8 193.0 L165.8 194.1 L165.9 195.2 L165.9 196.3 L166.0 197.4 L166.0 198.5 L166.1 199.6 L166.1 200.7 L166.2 201.8 L166.3 202.9 L166.3 204.0 L166.4 205.1 L166.4 206.2 L166.5 207.3 L166.5 208.4 L166.6 209.5 L166.7 210.6 L166.7 211.7 L166.8 212.8 L166.8 213.9 L166.9 215.0 L166.9 216.1 L167.0 217.2 L167.1 218.3 L167.1 219.4 L167.2 220.5 L167.2 221.6 L167.3 222.7 L167.4 223.8 L167.4 224.9 L167.5 226.0 L167.6 227.1 L167.6 228.2 L167.7 229.3 L167.7 230.4 L167.8 231.5 L167.9 232.6 L167.9 233.7 L168.0 234.7 L168.1 235.8 L168.1 236.9 L168.2 238.0 L168.3 239.1 L168.3 240.2 L168.4 241.3 L168.5 242.4 L168.6 243.5 L168.6 244.6 L168.7 245.7 L168.8 246.8 L168.8 247.9 L168.9 249.0 L169.0 250.1 L169.1 251.2 L169.2 252.3 L169.2 253.4 L169.3 254.5 L169.4 255.6 L169.5 256.7 L169.6 257.8 L169.6 258.9 L169.7 260.0 L169.8 261.1 L169.9 262.2 L170.0 263.3 L170.1 264.4 L170.1 265.5 L170.2 266.6 L170.3 267.7 L170.4 268.8 L170.5 269.9 L170.6 271.0 L170.7 272.1 L170.7 273.2 L170.8 274.2 L170.9 275.3 L171.0 276.4 L171.1 277.5 L171.2 278.6 L171.3 279.7 L171.4 280.8 L171.4 281.9 L171.5 283.0 L171.6 284.1 L171.7 285.2 L171.8 286.3 L171.9 287.4 L172.0 288.5 L172.1 289.6 L172.2 290.7 L172.2 291.8 L172.3 292.9 L172.4 294.0 L172.5 295.1 L172.6 296.2 L172.7 297.3 L172.8 298.4 L172.9 299.5 L172.9 300.6 L173.0 301.7 L173.1 302.8 L173.2 303.9 L173.3 304.9 L173.4 306.0 L173.5 307.1 L173.5 308.2 L173.6 309.3 L173.7 310.4 L173.8 311.5 L173.9 312.6 L174.0 313.7 L174.0 314.8 L174.1 315.9 L174.2 317.0 L174.3 318.1 L174.4 319.2 L174.4 320.3 L174.5 321.4 L174.6 322.5 L174.7 323.6 L174.7 324.7 L174.8 325.8 L174.9 326.9 L174.9 328.0 L175.0 329.1 L175.1 330.2 L175.1 331.3 L175.2 332.4 L175.3 333.5 L175.3 334.6 L175.4 335.7 L175.5 336.8 L175.5 337.9 L175.6 339.0 L175.7 340.1 L175.7 341.2 L175.8 342.3 L175.8 343.4 L175.9 344.5 L175.9 345.6 L176.0 346.7 L176.1 347.8 L176.1 348.9 L176.2 350.0 L176.2 351.1 L176.3 352.2 L176.3 353.3 L176.4 354.4 L176.4 355.4 L176.5 356.5 L176.5 357.6 L176.6 358.7 L176.6 359.8 L176.6 360.9 L176.7 362.0 L176.7 363.1 L176.8 364.2 L176.8 365.3 L176.9 366.4 L176.9 367.5 L177.0 368.6 L177.0 369.7 L177.0 370.8 L177.1 371.9 L177.1 373.0 L177.2 374.1 L177.2 375.2 L177.3 376.3 L177.3 377.4 L177.3 378.5 L177.4 379.6 L177.4 380.7 L177.5 381.8 L177.5 382.9 L177.5 384.0 L177.6 385.1 L177.6 386.2 L177.7 387.3 L177.7 388.4 L177.7 389.5 L177.8 390.6 L177.8 391.7 L177.9 392.8 L177.9 393.9 L177.9 395.0 L178.0 396.1 L178.0 397.2 L178.1 398.3 L178.1 399.4 L178.1 400.5 L178.2 401.6 L178.2 402.7 L178.3 403.8 L178.3 404.9 L178.3 406.0 L178.4 407.1 L178.4 408.2 L178.5 409.3 L178.5 410.4 L178.6 411.5 L178.6 412.6 L178.7 413.7 L178.7 414.8 L178.7 415.9 L178.8 417.0 L178.8 418.1 L178.9 419.2 L178.9 420.3 L179.0 421.4 L179.0 422.5 L179.1 423.6 L179.1 424.7 L179.2 425.8 L179.2 426.9 L179.3 428.0 L179.3 429.1 L179.4 430.2 L179.4 431.3 L179.5 432.4 L179.6 433.5 L179.6 434.6 L179.7 435.7 L179.7 436.8 L179.8 437.9 L179.9 439.0 L179.9 440.1 L180.0 441.2 L180.0 442.3 L180.1 443.4 L180.2 444.5 L180.2 445.6 L180.3 446.7 L180.4 447.8 L180.4 448.9 L180.5 450.0 L180.6 451.1 L180.7 452.2 L180.8 453.2 L180.8 454.3 L180.9 455.4 L181.0 456.5 L181.1 457.6 L181.2 458.7 L181.3 459.8 L181.4 460.9 L181.4 462.0 L181.5 463.1 L181.6 464.2 L181.7 465.3 L181.8 466.4 L181.9 467.5 L182.0 468.6 L182.1 469.7 L182.2 470.8 L182.3 471.9 L182.4 473.0 L182.5 474.1 L182.7 475.2 L182.8 476.3 L182.9 477.4 L183.0 478.4 L183.1 479.5 L183.2 480.6 L183.3 481.7 L183.4 482.8 L183.5 483.9 L183.7 485.0 L183.8 486.1 L183.9 487.2 L184.0 488.3 L184.1 489.4 L184.3 490.5 L184.4 491.6 L184.5 492.7 L184.6 493.8 L184.7 494.9 L184.9 496.0 L185.0 497.0 L185.1 498.1 L185.2 499.2 L185.3 500.3 L185.5 501.4 L185.6 502.5 L185.7 503.6 L185.8 504.7 L185.9 505.8 L186.1 506.9 L186.2 508.0 L186.3 509.1 L186.4 510.2 L186.6 511.3 L186.7 512.3 L186.8 513.4 L186.9 514.5 L187.1 515.6 L187.2 516.7 L187.3 517.8 L187.4 518.9 L187.5 520.0 L187.7 521.1 L187.8 522.2 L187.9 523.3 L188.0 524.4 L188.1 525.5 L188.3 526.6 L188.4 527.7 L188.5 528.7 L188.6 529.8 L188.7 530.9 L188.8 532.0 L189.0 533.1 L189.1 534.2 L189.2 535.3 L189.3 536.4 L189.4 537.5 L189.5 538.6 L189.6 539.7 L189.7 540.8 L189.8 541.9 L189.9 543.0 L190.0 544.1 L190.1 545.2 L190.2 546.3 L190.3 547.4 L190.5 548.5 L190.5 549.5 L190.6 550.6 L190.7 551.7 L190.8 552.8 L190.9 553.9 L191.0 555.0 L191.1 556.1 L191.2 557.2 L191.3 558.3 L191.3 559.4 L191.4 560.5 L191.5 561.6 L191.6 562.7 L191.7 563.8 L191.7 564.9 L191.8 566.0 L191.9 567.1 L192.0 568.2 L192.1 569.3 L192.1 570.4 L192.2 571.5 L192.3 572.6 L192.4 573.7 L192.5 574.8 L192.5 575.9 L192.6 577.0 L192.7 578.1 L192.8 579.2 L192.9 580.3 L192.9 581.4 L192.9 582.5 L193.0 583.6 L193.1 584.7 L193.3 585.7 L193.3 586.8 L193.5 587.9 L193.5 589.0 L193.7 590.1 L193.6 591.2 L193.9 592.3 L193.8 593.4 L194.2 594.5 L194.0 595.6 L194.3 596.7 L194.5 597.8 L194.6 598.9 L194.5 600.0 L194.8 601.1 L195.0 602.1 L195.1 603.2 L195.1 604.4 L195.2 605.4 L195.7 606.5 L195.5 607.6 L196.1 608.6 L196.2 609.7 L196.6 610.8 L196.5 611.9 L196.5 613.1 L196.7 614.1 L197.3 615.1 L197.9 616.1 L197.8 617.3 L198.3 618.3 L198.6 619.3 L198.9 620.4 L198.4 621.7 L199.3 622.6 L200.1 623.5 L199.8 624.7 L199.8 625.8 L199.9 626.9 L200.3 628.0 L200.6 629.0 L201.6 629.9 L201.6 631.1 L201.7 632.2 L202.5 633.1 L202.2 634.3 L203.0 635.3 L203.2 636.4 L202.1 637.7 L203.5 638.6 L203.1 639.7 L203.0 640.9 L202.5 642.0 L203.8 643.0 L204.2 644.1 L203.0 645.3 L204.2 646.3 L204.3 647.4 L204.6 648.4 L204.2 649.6 L204.7 650.6 L204.5 651.8 L204.7 652.9 L204.2 654.0 L204.6 655.1 L204.3 656.2 L205.2 657.2 L205.2 658.3 L203.9 659.6 L205.7 660.5 L204.7 661.7 L205.0 662.8 L205.3 663.9 L206.7 664.7 L207.2 665.7 L205.7 667.2 L207.5 667.9 L207.4 669.0 L205.9 670.5 L206.2 671.6 L206.5 672.7 L207.7 673.5 L208.3 674.5 L208.6 675.5 L209.2 676.5 L207.9 678.1 L208.6 679.0 L208.4 680.2 L210.7 680.6 L210.2 681.9 L210.4 683.1 L211.7 683.7 L211.5 685.0 L213.2 685.5 L213.3 686.6 L214.3 687.4 L213.1 689.1 L214.6 689.7 L214.7 690.8 L215.3 691.7 L216.9 692.2 L214.4 694.5 L215.5 695.3 L217.3 695.7 L215.8 697.6 L217.0 698.2 L216.3 699.7 L218.6 699.9 L220.3 700.4 L220.6 701.5 L218.8 703.4 L219.8 704.1 L221.5 704.7 L220.8 706.1 L221.3 707.1 L220.5 708.6 L223.8 708.5 L224.0 709.6 L223.2 711.1 L224.7 711.7 L222.1 713.9 L225.3 713.8 L224.2 715.4 L225.3 716.2 L224.6 717.7 L227.5 717.6 L227.0 719.0 L227.0 720.2 L228.7 720.7 L227.3 722.5 L228.1 723.4 L227.5 724.8 L229.3 725.2 L230.3 726.0 L230.7 727.0 L231.4 727.9 L229.8 730.5 L231.5 730.8 L233.2 729.7 L234.0 730.5 L235.6 729.7 L235.8 731.9 L236.5 732.8 L238.7 732.0 L238.3 733.6 L237.7 734.9 L238.8 735.7 L238.6 736.9 L240.2 737.7 L238.2 739.2 L241.0 739.8 L239.9 741.1 L240.8 742.1 L241.7 743.0 L239.2 744.7 L241.8 745.2 L241.1 746.5 L241.2 747.7 L242.8 748.0 L242.7 749.3 L243.0 750.4 L243.9 751.2 L244.7 752.0 L245.5 752.8 L243.9 754.9 L245.8 755.2 L245.7 756.5 L246.7 757.2 L248.1 757.7 L248.0 759.0 L247.4 760.6 L247.8 761.7 L248.3 762.9 L251.1 761.9 L251.5 763.0 L252.9 763.2 L251.4 766.3 L253.1 766.1 L253.7 767.1 L255.2 767.1 L256.5 767.4 L256.9 768.6 L257.9 769.1 L258.0 770.5 L258.1 772.1 L258.8 772.9 L261.0 772.2 L262.1 772.7 L261.3 774.9 L262.9 775.0 L264.3 775.4 L263.6 777.2 L265.8 777.0 L266.5 777.8 L267.4 778.5 L267.5 779.8 L267.3 781.3 L268.9 781.5 L269.9 782.2 L269.2 784.0 L268.7 785.8 L272.0 784.6 L272.0 785.9 L270.9 788.5 L272.4 788.6 L272.7 789.9 L273.3 790.9 L275.9 789.8 L275.3 792.0 L277.3 791.4 L276.3 794.0 L277.3 795.1 L278.8 792.6 L280.6 794.3 L280.0 791.2 L282.1 792.4 L282.8 791.5 L283.9 791.3 L284.7 791.3 L284.4 791.8 L286.0 791.8 L288.0 791.7 L286.1 794.5 L289.3 793.4 L287.7 796.0 L290.4 795.4 L288.7 798.0 L290.2 798.3 L291.8 798.4 L290.7 800.6 L293.5 799.9 L294.0 800.9 L294.3 802.0 L294.7 803.1 L295.9 803.5 L295.7 806.4 L296.7 804.1 L298.6 805.4 L298.4 802.5 L299.7 802.7 L301.3 803.4 L302.6 803.5 L302.6 801.2 L303.7 800.8 L304.6 802.1 L305.6 800.8 L306.2 801.8 L305.3 803.8 L307.3 803.7 L309.1 803.8 L307.2 806.5 L309.2 806.4 L310.3 807.0 L309.3 809.1 L312.6 808.0 L310.4 811.0 L313.6 809.9 L314.3 810.5 L312.9 813.6 L314.9 813.1 L316.5 813.0 L315.2 816.0 L317.7 814.9 L316.9 817.3 L319.0 816.7 L320.0 817.2 L320.3 818.5 L320.5 820.4 L322.5 821.2 L323.5 819.3 L323.5 817.6 L325.6 818.4 L326.6 817.9 L326.5 816.1 L327.8 815.9 L329.0 815.7 L329.3 814.5 L329.7 814.2 L331.0 814.0 L331.2 815.3 L333.0 815.1 L334.1 815.4 L334.6 816.6 L334.9 817.8 L336.0 818.2 L335.9 820.0 L337.6 819.8 L338.1 820.9 L339.5 821.0 L340.8 821.1 L340.0 823.7 L341.9 822.9 L342.3 823.9 L343.5 824.0 L344.6 823.8 L345.3 822.5 L346.1 821.6 L348.0 823.4 L348.6 822.1 L349.6 820.2 L349.6 822.5 L350.9 822.7 L352.0 823.2 L353.6 823.1 L354.0 824.3 L355.1 824.8 L354.2 827.1 L354.9 828.0 L356.5 828.0 L358.3 827.8 L358.7 828.9 L357.3 831.7 L358.2 832.4 L360.4 831.9 L361.8 832.0 L361.7 833.6 L362.5 833.8 L363.2 832.1 L364.8 834.5 L365.9 834.0 L366.9 833.6 L368.1 834.2 L369.2 834.0 L369.8 831.5 L370.8 830.8 L372.1 831.7 L373.6 833.3 L374.6 832.7 L375.3 830.6 L376.6 832.2 L377.5 831.5 L378.9 831.4 L378.6 833.4 L380.5 832.9 L381.2 833.8 L382.3 834.2 L382.2 835.9 L383.3 836.3 L383.7 837.6 L386.1 836.6 L385.8 838.5 L387.6 838.2 L387.4 839.5 L387.4 838.5 L389.1 839.5 L390.8 840.1 L391.6 839.3 L391.8 837.6 L392.4 836.5 L392.7 834.8 L394.9 836.3 L395.4 834.6 L396.6 835.2 L396.7 836.7 L398.7 836.5 L398.3 838.2 L399.3 838.8 L400.2 839.5 L399.5 841.4 L400.6 842.0 L402.9 841.5 L401.4 844.2 L404.8 842.8 L404.8 844.2 L405.8 844.8 L405.9 846.2 L407.1 846.5 L407.0 847.2 L407.8 847.3 L408.9 847.1 L409.6 846.0 L410.4 844.9 L412.1 846.2 L413.2 846.1 L414.3 845.8 L414.4 843.2 L415.6 843.0 L417.4 844.6 L417.6 842.2 L418.7 841.7 L420.2 842.9 L421.4 842.7 L422.4 843.9 L423.7 841.7 L424.7 842.5 L425.8 842.8 L426.9 843.1 L428.1 842.0 L429.0 844.2 L429.7 842.2 L430.7 842.9 L432.7 844.5 L432.4 841.4 L434.2 842.6 L434.9 841.5 L436.7 842.6 L436.9 840.4 L437.8 839.0 L437.9 842.0 L439.1 841.7 L441.4 840.8 L441.2 842.6 L442.6 842.7 L441.9 845.1 L444.6 843.8 L444.1 845.9 L444.1 847.5 L445.1 848.1 L445.9 848.9 L447.3 849.0 L449.1 848.7 L450.4 848.8 L451.0 849.8 L450.6 852.9 L452.2 852.0 L452.6 849.4 L454.6 852.3 L455.2 850.3 L455.9 848.7 L457.3 849.5 L458.2 848.9 L459.1 847.9 L460.6 849.1 L461.5 848.4 L462.9 848.3 L462.5 850.5 L464.0 850.5 L465.3 850.6 L466.6 850.8 L466.6 852.5 L468.3 852.2 L467.3 855.1 L469.1 854.6 L469.0 856.5 L471.3 855.5 L471.8 856.6 L472.5 857.4 L472.4 859.3 L474.5 857.4 L475.1 858.1 L475.9 856.7 L477.8 859.4 L478.8 858.7 L479.4 856.9 L480.7 857.5 L481.6 856.8 L482.8 856.7 L484.0 857.3 L484.5 857.6 L486.4 854.8 L486.6 856.9 L487.0 858.6 L488.8 857.3 L490.1 857.3 L491.3 857.4 L491.4 859.6 L493.1 858.7 L493.8 859.7 L494.7 860.3 L495.3 861.6 L495.9 863.2 L497.9 863.7 L498.0 860.6 L498.9 859.9 L500.7 860.8 L501.6 860.1 L501.7 858.2 L504.0 859.7 L504.6 858.7 L504.3 856.2 L505.9 856.5 L506.0 854.6 L507.8 855.4 L508.7 855.0 L510.0 853.9 L511.3 854.1 L512.1 855.0 L512.5 856.5 L514.3 855.6 L515.0 856.5 L516.0 857.1 L516.5 858.4 L517.3 859.3 L518.5 859.3 L519.0 860.7 L519.9 862.4 L521.0 859.6 L522.9 862.0 L523.1 859.3 L524.5 859.8 L525.2 858.6 L526.6 859.4 L527.9 859.6 L528.6 859.1 L529.3 858.6 L530.3 858.9 L532.0 858.1 L531.7 860.8 L532.3 862.0 L533.9 861.4 L535.0 861.8 L536.7 860.9 L537.4 861.9 L538.2 862.8 L539.3 862.7 L540.2 865.7 L541.6 864.8 L541.6 862.5 L542.2 861.2 L543.6 861.5 L544.2 860.3 L545.8 861.0 L546.2 859.3 L546.9 858.4 L548.9 859.8 L549.6 858.5 L550.2 859.9 L551.3 860.1 L551.9 861.1 L553.5 860.9 L553.8 862.4 L554.8 862.8 L555.4 863.8 L557.7 862.8 L556.2 866.3 L558.8 864.8 L560.1 865.1 L560.4 866.4 L560.3 868.3 L561.9 869.8 L563.3 868.3 L562.7 866.2 L564.8 866.8 L563.5 863.9 L564.4 863.2 L565.4 862.7 L567.8 863.5 L568.4 862.6 L567.6 860.2 L569.9 861.0 L570.9 860.3 L570.1 858.0 L572.2 858.5 L572.3 857.0 L573.7 855.3 L573.9 857.7 L574.8 858.5 L574.4 860.3 L576.0 860.3 L576.0 861.8 L577.8 861.6 L577.8 863.1 L577.8 864.6 L581.3 863.0 L580.8 864.9 L581.6 865.7 L581.3 867.4 L584.2 866.2 L583.4 868.5 L584.6 868.3 L585.0 868.8 L586.4 868.5 L586.8 867.5 L586.4 865.7 L587.0 864.8 L589.6 865.5 L589.3 863.8 L591.4 864.1 L591.2 862.5 L590.6 860.6 L591.1 859.6 L592.3 859.1 L594.3 859.4 L594.1 857.8 L595.0 857.3 L595.6 857.4 L597.4 856.7 L597.9 857.9 L598.9 858.4 L598.3 861.0 L601.3 858.8 L600.0 862.4 L602.8 860.5 L602.7 862.4 L604.3 862.2 L605.1 863.0 L604.9 865.0 L606.2 865.6 L607.6 865.7 L607.8 863.2 L608.8 862.8 L610.7 864.2 L610.6 861.5 L613.0 863.7 L614.0 863.3 L614.2 861.4 L615.1 861.7 L616.5 861.1 L616.7 862.6 L619.0 861.3 L619.5 862.5 L619.9 863.9 L620.7 864.6 L620.6 866.8 L621.5 867.4 L624.2 865.3 L624.8 866.4 L626.1 866.4 L626.5 867.8 L626.3 870.4 L628.0 869.6 L628.6 867.3 L630.2 868.8 L631.7 870.0 L632.8 869.8 L633.8 869.3 L634.6 868.4 L635.2 866.3 L636.9 868.3 L637.3 865.8 L639.0 867.6 L639.2 864.3 L640.2 864.0 L642.0 866.5 L643.2 863.8 L643.8 865.7 L645.0 865.9 L646.0 866.3 L646.8 867.2 L647.5 868.2 L647.7 869.9 L649.1 869.8 L649.5 871.3 L651.0 871.6 L652.2 868.9 L653.4 869.9 L654.5 870.2 L655.5 869.0 L656.7 870.1 L657.9 871.5 L658.8 868.6 L660.1 870.6 L660.9 871.3 L662.4 868.8 L662.6 871.3 L664.6 869.3 L664.6 872.4 L666.5 870.6 L667.5 870.9 L667.7 873.5 L669.5 871.8 L670.7 871.9 L671.5 872.6 L672.5 874.0 L672.2 871.3 L673.4 871.1 L674.2 870.3 L676.0 871.0 L675.9 868.9 L678.7 871.1 L678.6 869.0 L679.8 868.9 L679.9 866.9 L681.5 868.1 L683.2 866.1 L684.1 866.8 L683.8 870.1 L685.9 868.2 L686.4 869.6 L687.4 870.2 L688.9 869.4 L689.3 871.3 L690.8 870.6 L691.2 872.4 L692.8 871.5 L693.5 872.6 L694.4 873.3 L695.1 871.6 L695.7 871.6 L696.7 871.1 L698.3 871.8 L699.4 871.6 L701.1 872.6 L701.0 869.9 L701.7 868.9 L704.1 871.1 L704.3 869.1 L705.5 870.2 L706.4 868.2 L708.0 868.2 L708.0 870.0 L707.6 872.2 L710.6 870.2 L710.5 872.1 L710.5 873.9 L712.8 872.7 L712.3 875.1 L714.9 873.6 L715.2 875.1 L716.1 875.2 L716.9 878.2 L717.6 876.1 L717.8 874.5 L720.1 875.8 L720.2 874.0 L720.6 872.8 L722.3 873.2 L723.1 872.5 L724.6 872.7 L723.5 869.3 L726.2 871.2 L726.3 870.0 L728.0 869.0 L728.3 870.4 L730.0 870.0 L729.0 873.1 L731.6 871.4 L732.3 872.4 L732.1 874.6 L732.8 875.4 L735.0 874.3 L736.0 874.8 L737.2 875.0 L737.9 875.9 L738.0 879.2 L737.8 876.2 L739.2 876.0 L740.9 876.2 L742.3 876.0 L742.8 874.9 L743.7 874.3 L744.2 873.3 L743.7 871.2 L745.3 871.2 L746.2 870.6 L746.2 869.0 L747.5 868.8 L749.3 869.0 L748.3 866.5 L750.7 867.3 L750.8 867.1 L751.1 866.0 L751.3 867.6 L752.6 867.6 L753.6 868.1 L755.7 866.8 L755.4 869.4 L757.5 868.1 L757.2 870.6 L759.6 868.9 L758.8 872.1 L761.2 870.5 L760.9 873.4 L762.6 873.8 L762.7 870.5 L763.7 870.1 L766.2 872.5 L767.2 872.0 L766.7 868.5 L768.6 869.9 L769.1 868.5 L769.5 866.9 L771.9 869.1 L772.5 868.0 L772.5 865.4 L774.2 866.3 L775.3 866.4 L774.3 868.6 L774.9 869.5 L777.9 868.6 L776.9 870.8 L777.9 871.4 L779.3 871.7 L779.5 872.9 L780.7 873.4 L782.5 873.4 L781.0 876.0 L781.5 876.9 L781.8 878.1 L783.7 878.0 L785.7 877.9 L784.8 881.3 L785.0 878.5 L785.1 877.5 L785.8 876.6 L787.8 876.6 L787.8 875.3 L789.4 875.0 L788.0 872.8 L788.4 871.7 L792.0 872.8 L789.9 870.0 L791.3 869.7 L790.9 868.1 L794.2 869.0 L793.7 868.7 L794.2 868.4 L796.1 868.0 L795.2 870.5 L797.9 869.3 L797.7 871.1 L798.8 871.5 L797.8 874.1 L798.6 874.8 L799.8 875.2 L801.6 875.0 L802.2 875.9 L802.9 876.8 L803.7 877.6 L804.7 876.5 L805.5 876.3 L807.1 877.9 L808.2 878.1 L809.4 878.3 L810.3 877.3 L811.2 876.2 L811.8 874.2 L812.9 874.0 L814.0 873.9 L815.6 875.7 L816.4 873.8 L817.6 874.6 L819.0 874.1 L819.9 874.8 L820.7 875.6 L821.4 876.9 L821.9 878.6 L824.1 876.0 L824.9 877.0 L825.0 879.9 L826.4 880.0 L828.3 880.2 L828.6 878.0 L828.8 876.4 L829.6 875.6 L831.8 876.8 L833.0 876.5 L833.2 874.9 L834.2 874.4 L835.5 874.3 L834.9 871.8 L836.6 872.1 L837.4 871.4 L839.1 871.8 L838.6 869.3 L839.0 868.1 L840.5 867.0 L842.0 868.2 L843.5 868.5 L843.6 869.9 L843.7 871.4 L844.8 871.8 L845.0 873.1 L846.1 873.6 L846.3 875.0 L847.9 875.0 L847.8 876.6 L849.4 876.6 L849.7 878.2 L851.2 878.5 L852.6 878.0 L852.1 875.2 L854.2 876.5 L853.7 873.6 L855.4 874.2 L856.6 874.2 L856.5 871.9 L857.8 871.2 L859.5 871.7 L860.6 872.7 L861.0 874.4 L862.8 873.1 L863.5 874.3 L863.6 876.6 L865.5 875.1 L865.8 877.1 L867.1 876.9 L869.0 875.6 L868.4 879.2 L870.8 876.8 L871.2 878.0 L873.0 879.7 L872.1 876.8 L874.8 878.0 L874.8 876.4 L874.3 874.4 L874.9 873.4 L878.0 874.9 L877.3 872.7 L878.8 872.7 L878.0 870.3 L879.8 870.5 L881.3 869.4 L881.7 871.3 L883.5 870.1 L884.5 870.7 L884.0 874.2 L885.0 874.6 L886.2 874.7 L887.6 874.4 L889.2 873.6 L889.2 876.1 L891.0 874.8 L892.3 874.8 L892.8 876.1 L893.4 877.5 L894.5 878.1 L896.0 878.4 L896.1 876.3 L896.6 875.0 L897.3 874.0 L898.5 874.0 L901.0 875.7 L900.1 872.3 L902.2 873.6 L902.9 872.3 L904.4 872.1 L904.1 874.3 L905.2 874.8 L907.3 873.9 L906.7 876.4 L909.0 875.4 L909.5 876.5 L909.5 878.2 L910.0 879.3 L911.2 879.6 L911.2 881.3 L912.6 881.4 L912.8 882.9 L915.3 881.5 L915.4 884.7 L915.8 881.4 L916.6 880.8 L917.4 880.1 L918.1 879.2 L920.2 880.0 L919.5 877.5 L922.3 879.1 L922.6 877.8 L922.8 876.2 L925.0 877.3 L925.8 876.4 L926.1 875.1 L925.9 872.6 L927.2 875.5 L928.3 874.8 L928.7 876.2 L931.0 874.4 L932.2 874.5 L932.7 876.0 L932.7 878.1 L933.5 878.8 L934.4 879.6 L936.3 878.4 L936.5 880.5 L937.7 878.5 L938.9 879.3 L938.6 877.1 L941.0 878.4 L941.1 876.7 L941.3 875.2 L943.5 876.2 L943.8 874.8 L944.4 873.8 L945.4 873.3 L947.1 873.9 L947.5 872.3 L947.7 874.5 L950.0 872.6 L950.5 874.0 L950.6 876.1 L952.0 875.8 L952.7 876.7 L953.5 877.7 L955.0 877.2 L956.7 876.4 L957.3 877.6 L958.4 878.0 L959.5 878.2 L959.8 880.3 L960.2 878.4 L962.4 880.0 L962.6 878.1 L964.2 878.8 L965.2 878.4 L965.9 877.2 L967.1 877.2 L968.0 876.6 L968.6 875.3 L969.4 874.0 L970.5 874.9 L971.7 875.0 L972.3 876.2 L973.5 876.4 L974.6 876.7 L975.9 876.5 L976.4 878.0 L977.8 877.6 L978.4 878.8 L979.8 878.5 L980.3 879.9 L981.0 881.0 L982.8 879.9 L983.4 881.1 L984.1 882.2 L985.0 882.1 L986.0 882.8 L987.4 883.1 L988.4 882.4 L988.3 880.0 L989.2 879.4 L990.8 880.1 L991.5 878.9 L991.8 877.3 L993.1 877.4 L994.6 879.6 L994.7 879.9 L996.8 878.4 L998.3 877.9 L997.9 880.9 L999.8 879.7 L1001.2 879.5 L1001.8 880.7 L1002.9 880.9 L1002.6 884.0 L1004.1 881.7 L1005.6 883.2 L1005.6 880.7 L1006.4 880.0 L1007.9 880.5 L1009.3 880.8 L1010.2 880.0 L1011.7 880.6 L1012.0 878.7 L1013.2 878.8 L1013.3 876.4 L1015.4 878.2 L1016.3 877.6 L1017.5 877.5 L1017.7 874.4 L1018.9 875.9 L1019.4 877.2 L1021.8 875.9 L1020.7 879.1 L1021.6 879.7 L1023.2 879.5 L1024.5 879.6 L1024.5 881.5 L1025.0 882.6 L1026.7 882.1 L1027.2 884.2 L1028.1 881.4 L1029.2 881.6 L1030.9 882.3 L1031.2 880.6 L1032.4 880.6 L1033.6 880.5 L1034.5 879.8 L1035.2 878.7 L1035.6 877.2 L1037.2 877.6 L1038.5 877.1 L1038.8 879.6 L1039.9 880.0 L1041.7 878.4 L1042.2 880.1 L1043.1 880.7 L1044.5 880.3 L1046.0 879.5 L1046.1 882.2 L1047.7 880.3 L1048.6 882.4 L1048.8 879.9 L1050.6 881.2 L1051.1 879.7 L1052.3 879.7 L1054.2 881.3 L1055.2 880.7 L1055.6 879.0 L1056.8 879.0 L1058.0 878.9 L1058.9 878.2 L1059.0 875.7 L1060.5 876.4 L1062.1 877.3 L1062.6 876.6 L1064.0 875.3 L1063.9 877.9 L1065.4 877.6 L1066.9 876.9 L1068.3 876.7 L1068.1 879.5 L1069.6 878.9 L1070.0 881.4 L1071.3 878.8 L1071.8 877.8 L1073.1 878.0 L1074.4 878.1 L1074.8 876.4 L1076.4 877.2 L1077.2 876.2 L1079.3 878.4 L1079.1 875.1 L1081.1 877.1 L1081.1 874.3 L1082.7 875.3 L1083.6 875.2 L1084.5 875.3 L1084.7 877.2 L1086.6 876.1 L1087.1 877.4 L1087.6 878.6 L1089.8 877.1 L1090.2 878.7 L1090.3 880.7 L1091.6 880.5 L1092.7 880.9 L1094.0 880.4 L1095.7 881.4 L1096.6 880.5 L1096.4 878.7 L1097.5 878.3 L1098.6 877.9 L1099.7 877.4 L1099.7 875.7 L1100.2 874.7 L1100.5 873.4 L1102.8 874.3 L1103.7 873.7 L1103.1 871.4 L1104.7 872.9 L1106.4 871.2 L1105.7 873.9 L1108.2 872.5 L1107.8 874.7 L1109.0 875.0 L1110.7 874.5 L1110.2 877.0 L1110.9 877.8 L1111.5 878.9 L1113.3 878.4 L1114.1 879.1 L1114.9 880.3 L1116.7 880.6 L1116.4 878.3 L1117.9 878.4 L1118.6 877.4 L1118.3 875.5 L1120.4 876.2 L1121.7 876.0 L1121.5 874.1 L1123.6 874.8 L1123.4 872.9 L1124.9 873.3 L1124.7 872.6 L1125.9 872.2 L1127.0 872.6 L1127.6 873.6 L1128.6 874.2 L1130.1 874.1 L1131.0 874.8 L1130.9 876.6 L1132.2 876.7 L1131.3 879.3 L1131.8 880.4 L1134.4 879.3 L1134.1 881.2 L1135.8 881.0 L1135.4 883.1 L1137.1 882.6 L1138.9 883.6 L1139.0 881.9 L1138.1 879.7 L1138.9 878.9 L1140.4 878.8 L1141.6 878.3 L1142.1 877.3 L1143.8 877.3 L1142.0 874.4 L1143.1 873.8 L1144.3 873.5 L1146.6 873.9 L1144.8 871.0 L1147.1 871.5 L1147.3 868.7 L1148.3 871.2 L1149.2 871.9 L1150.9 871.9 L1150.3 873.9 L1150.9 874.8 L1152.1 875.2 L1151.7 876.9 L1154.6 876.0 L1154.5 877.4 L1154.8 878.7 L1155.9 879.1 L1157.2 879.5 L1158.0 880.3 L1156.7 882.8 L1158.3 882.1 L1159.4 882.6 L1160.7 882.2 L1159.8 880.0 L1160.2 878.9 L1162.0 879.1 L1163.4 878.8 L1162.8 876.8 L1164.9 877.2 L1166.1 876.7 L1165.8 875.1 L1167.2 874.8 L1165.6 872.0 L1167.2 871.9 L1169.3 872.2 L1169.6 871.1 L1169.1 868.3 L1171.0 869.0 L1171.7 870.2 L1171.8 871.7 L1172.3 872.8 L1173.7 872.8 L1175.7 872.3 L1174.4 875.4 L1175.0 876.3 L1177.3 875.4 L1177.0 877.4 L1178.5 877.4 L1179.4 878.0 L1179.1 880.0 L1182.3 878.2 L1182.0 880.0 L1182.7 879.8 L1183.6 880.3 L1184.7 879.9 L1185.3 878.5 L1186.9 879.4 L1187.6 878.3 L1189.4 879.8 L1190.4 879.4 L1190.6 877.1 L1192.2 877.9 L1193.0 877.1 L1193.7 875.8 L1194.9 874.9 L1194.8 877.6 L1197.4 876.1 L1196.7 878.5 L1197.6 879.1 L1199.8 878.3 L1200.2 879.5 L1200.9 880.4 L1201.6 881.3 L1202.2 882.3 L1203.5 882.2 L1204.3 883.1 L1205.1 882.0 L1206.9 883.3 L1207.5 881.9 L1208.2 880.8 L1209.2 880.5 L1209.4 878.4 L1210.7 878.5 L1212.4 879.5 L1213.9 879.9 L1213.7 877.1 L1215.8 879.0 L1215.9 876.2 L1217.1 876.9 L1217.4 879.1 L1218.6 879.0 L1220.0 878.3 L1220.4 880.4 L1221.4 880.8 L1223.6 878.3 L1223.7 880.9 L1225.5 879.5 L1226.3 880.0 L1227.2 880.4 L1228.2 880.2 L1228.7 878.6 L1230.7 880.4 L1230.6 877.4 L1233.0 880.3 L1233.0 877.4 L1234.7 878.6 L1235.4 877.5 L1236.8 878.3 L1237.7 875.8 L1239.4 876.2 L1239.9 877.3 L1239.5 879.5 L1240.0 880.6 L1242.5 879.3 L1242.3 881.3 L1244.4 880.4 L1243.4 883.4 L1246.0 881.9 L1246.7 882.9 L1246.4 885.0 L1247.7 885.1 L1248.7 885.1 L1250.3 886.8 L1249.8 884.8 L1249.0 883.1 L1250.4 882.6 L1251.9 882.1 L1251.6 880.7 L1250.9 879.1 L1251.7 878.3 L1252.5 877.4 L1254.0 877.0 L1254.8 876.2 L1254.8 874.9 L1254.4 873.5 L1255.5 872.6 L1256.0 874.1 L1258.0 872.9 L1257.7 874.8 L1258.4 874.6" stroke="#0000ff" stroke-width="7.8" stroke-linecap="round"/>
</g>
<g font-family="'Liberation Serif', serif" font-size="40.6" fill="#262626">
<text transform="translate(153.3 960.1) scale(1 1.035)" text-anchor="middle">0</text>
<text transform="translate(276.1 960.1) scale(1 1.035)" text-anchor="middle">1</text>
<text transform="translate(398.9 960.1) scale(1 1.035)" text-anchor="middle">2</text>
<text transform="translate(521.7 960.1) scale(1 1.035)" text-anchor="middle">3</text>
<text transform="translate(644.5 960.1) scale(1 1.035)" text-anchor="middle">4</text>
<text transform="translate(767.3 960.1) scale(1 1.035)" text-anchor="middle">5</text>
<text transform="translate(890.1 960.1) scale(1 1.035)" text-anchor="middle">6</text>
<text transform="translate(1012.9 960.1) scale(1 1.035)" text-anchor="middle">7</text>
<text transform="translate(1135.7 960.1) scale(1 1.035)" text-anchor="middle">8</text>
<text transform="translate(1258.5 960.1) scale(1 1.035)" text-anchor="middle">9</text>
<text transform="translate(1382.0 960.1) scale(1 1.035)" text-anchor="middle">10</text>
<text transform="translate(137.4 45.9) scale(1 1.035)" text-anchor="end">0</text>
<text transform="translate(135.6 338.2) scale(1 1.035)" text-anchor="end">-5</text>
<text transform="translate(135.6 630.6) scale(1 1.035)" text-anchor="end">-10</text>
<text transform="translate(135.6 923.4) scale(1 1.035)" text-anchor="end">-15</text>
<text x="766.5" y="1008.9" font-size="40.4" text-anchor="middle">Number of iterations/N</text>
<text transform="translate(52.2 468.2) rotate(-90)" font-size="40.4" text-anchor="middle">M-NMSE/dB</text>
<text x="1294.6" y="1028.2" font-size="49">×</text>
<text x="1324.4" y="1022">10</text>
<text x="1365.2" y="1001.4" font-size="32">4</text>
</g>
<g fill="none" stroke-linecap="butt">
<path d="M902.3 87.5 H1026.7" stroke="#000" stroke-width="9" stroke-dasharray="32.5 8.2 14.8 8.2"/>
<path d="M902.3 134.0 H1026.7" stroke="#00ffff" stroke-width="7.8" stroke-dasharray="32.5 31.2"/>
<path d="M902.3 181.0 H1026.7" stroke="#ff692b" stroke-width="7.8"/>
<path d="M902.3 227.2 H1026.7" stroke="#ff0000" stroke-width="7.8"/>
<path d="M902.3 274.0 H1026.7" stroke="#0000ff" stroke-width="7.8"/>
</g>
<g font-family="'Liberation Serif', serif" font-size="40.6" fill="#000">
<text x="1035.7" y="101.9">LMS</text>
<text x="1035.7" y="148.65">VSS-LMS</text>
<text x="1035.7" y="195.4">IVSS-LMS</text>
<text transform="translate(1230.7 195.4) scale(1.15 0.94)" font-style="italic">α</text>
<text transform="translate(1255.5 195.4) scale(1.12 1)">=</text>
<text x="1279.9" y="195.4">3</text>
<text x="1035.7" y="242.2">IVSS-LMS</text>
<text transform="translate(1230.7 242.2) scale(1.15 0.94)" font-style="italic">α</text>
<text transform="translate(1255.5 242.2) scale(1.12 1)">=</text>
<text x="1279.9" y="242.2">7</text>
<text x="1035.7" y="288.9">IVSS-LMS</text>
<text transform="translate(1230.7 288.9) scale(1.15 0.94)" font-style="italic">α</text>
<text transform="translate(1255.5 288.9) scale(1.12 1)">=</text>
<text x="1279.9" y="288.9">10</text>
</g>
</svg>
</body></html>
